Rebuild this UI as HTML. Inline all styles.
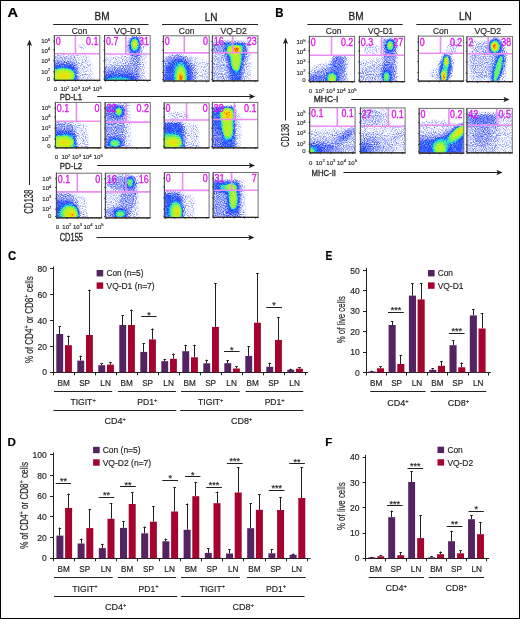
<!DOCTYPE html><html><head><meta charset="utf-8"><style>html,body{margin:0;padding:0;background:#fff;}text{stroke-width:0.18px;paint-order:stroke;}svg{display:block;will-change:transform;}</style></head><body>
<svg xmlns="http://www.w3.org/2000/svg" width="520" height="619" viewBox="0 0 520 619" font-family="Liberation Sans, sans-serif">
<defs>
<radialGradient id="rp"><stop offset="0" stop-color="#fff" stop-opacity="1"/><stop offset="0.55" stop-color="#fff" stop-opacity="0.95"/><stop offset="0.8" stop-color="#fff" stop-opacity="0.55"/><stop offset="1" stop-color="#fff" stop-opacity="0"/></radialGradient><radialGradient id="rg"><stop offset="0" stop-color="#fff" stop-opacity="1"/><stop offset="0.3" stop-color="#fff" stop-opacity="0.85"/><stop offset="0.55" stop-color="#fff" stop-opacity="0.5"/><stop offset="0.8" stop-color="#fff" stop-opacity="0.18"/><stop offset="1" stop-color="#fff" stop-opacity="0"/></radialGradient>
<filter id="jet" x="0" y="0" width="1" height="1" color-interpolation-filters="sRGB"><feGaussianBlur in="SourceGraphic" stdDeviation="1.2" result="d"/><feTurbulence type="fractalNoise" baseFrequency="0.9" numOctaves="1" seed="7" result="t"/><feColorMatrix in="t" type="matrix" values="1 0 0 0 0  1 0 0 0 0  1 0 0 0 0  0 0 0 0 1" result="tg0"/><feGaussianBlur in="tg0" stdDeviation="0.35" result="tg"/><feComponentTransfer in="tg" result="n2"><feFuncR type="linear" slope="0.65" intercept="0.175"/><feFuncG type="linear" slope="0.65" intercept="0.175"/><feFuncB type="linear" slope="0.65" intercept="0.175"/></feComponentTransfer><feComponentTransfer in="d" result="w"><feFuncR type="table" tableValues="0.000 0.397 0.794 1.000 1.000 1.000 1.000 1.000 1.000 1.000 1.000 1.000 1.000 1.000 1.000 1.000 1.000 1.000 1.000 0.996 0.956 0.917 0.877 0.837 0.798 0.758 0.718 0.679 0.639 0.599 0.560 0.520 0.500 0.500 0.500 0.500 0.500 0.500 0.500 0.500 0.500 0.500 0.500 0.500 0.500 0.500 0.500 0.500 0.500 0.500 0.500 0.500 0.500 0.500 0.500 0.500 0.500 0.500 0.500 0.500 0.500 0.500 0.500 0.500"/><feFuncG type="table" tableValues="0.000 0.397 0.794 1.000 1.000 1.000 1.000 1.000 1.000 1.000 1.000 1.000 1.000 1.000 1.000 1.000 1.000 1.000 1.000 0.996 0.956 0.917 0.877 0.837 0.798 0.758 0.718 0.679 0.639 0.599 0.560 0.520 0.500 0.500 0.500 0.500 0.500 0.500 0.500 0.500 0.500 0.500 0.500 0.500 0.500 0.500 0.500 0.500 0.500 0.500 0.500 0.500 0.500 0.500 0.500 0.500 0.500 0.500 0.500 0.500 0.500 0.500 0.500 0.500"/><feFuncB type="table" tableValues="0.000 0.397 0.794 1.000 1.000 1.000 1.000 1.000 1.000 1.000 1.000 1.000 1.000 1.000 1.000 1.000 1.000 1.000 1.000 0.996 0.956 0.917 0.877 0.837 0.798 0.758 0.718 0.679 0.639 0.599 0.560 0.520 0.500 0.500 0.500 0.500 0.500 0.500 0.500 0.500 0.500 0.500 0.500 0.500 0.500 0.500 0.500 0.500 0.500 0.500 0.500 0.500 0.500 0.500 0.500 0.500 0.500 0.500 0.500 0.500 0.500 0.500 0.500 0.500"/></feComponentTransfer><feComposite in="w" in2="n2" operator="arithmetic" k1="1" k2="-0.5" k3="0" k4="0.5" result="m"/><feComposite in="d" in2="m" operator="arithmetic" k1="0" k2="1" k3="1" k4="-0.5" result="dn"/><feComponentTransfer in="dn"><feFuncR type="table" tableValues="1.000 1.000 0.961 0.918 0.873 0.827 0.782 0.738 0.695 0.651 0.607 0.564 0.526 0.491 0.456 0.421 0.386 0.347 0.305 0.263 0.221 0.185 0.169 0.153 0.137 0.121 0.118 0.118 0.118 0.118 0.139 0.160 0.180 0.206 0.248 0.289 0.331 0.371 0.410 0.449 0.488 0.526 0.566 0.606 0.647 0.687 0.728 0.768 0.808 0.839 0.870 0.901 0.932 0.963 0.994 1.000 1.000 1.000 1.000 0.993 0.975 0.957 0.939 0.922"/><feFuncG type="table" tableValues="1.000 1.000 0.967 0.931 0.891 0.851 0.812 0.773 0.735 0.697 0.659 0.621 0.587 0.556 0.525 0.494 0.463 0.428 0.392 0.355 0.319 0.292 0.301 0.310 0.319 0.328 0.401 0.490 0.579 0.668 0.725 0.782 0.839 0.886 0.902 0.917 0.933 0.943 0.948 0.953 0.957 0.962 0.964 0.961 0.959 0.956 0.954 0.951 0.947 0.930 0.913 0.897 0.880 0.863 0.846 0.781 0.706 0.630 0.554 0.477 0.397 0.317 0.237 0.157"/><feFuncB type="table" tableValues="1.000 1.000 1.000 1.000 1.000 1.000 1.000 1.000 1.000 1.000 1.000 1.000 1.000 1.000 1.000 1.000 1.000 1.000 1.000 1.000 1.000 1.000 1.000 1.000 1.000 1.000 0.996 0.991 0.985 0.979 0.917 0.855 0.792 0.728 0.655 0.582 0.510 0.453 0.414 0.375 0.336 0.297 0.264 0.239 0.214 0.189 0.164 0.140 0.115 0.097 0.078 0.059 0.041 0.022 0.003 0.000 0.000 0.000 0.000 0.000 0.000 0.000 0.000 0.000"/></feComponentTransfer><feGaussianBlur stdDeviation="0.3"/></filter>
</defs>
<rect x="0" y="0" width="520" height="619" fill="#fff"/>
<text transform="translate(7.6,17) scale(1.16,1)" font-size="12.6" font-weight="bold" fill="#000" stroke="#000">A</text>
<text transform="translate(275.2,17) scale(0.91,1)" font-size="12.6" font-weight="bold" fill="#000" stroke="#000">B</text>
<text transform="translate(8.1,259.8) scale(0.89,1)" font-size="12.8" font-weight="bold" fill="#000" stroke="#000">C</text>
<text transform="translate(325.6,259.6) scale(0.81,1)" font-size="12.6" font-weight="bold" fill="#000" stroke="#000">E</text>
<text transform="translate(7.6,446.1) scale(1.06,1)" font-size="11.0" font-weight="bold" fill="#000" stroke="#000">D</text>
<text transform="translate(325.2,446.3) scale(1.0,1)" font-size="11.5" font-weight="bold" fill="#000" stroke="#000">F</text>
<text x="102" y="20.4" font-size="10" text-anchor="middle" fill="#231f20" stroke="#231f20" style="stroke-width:0.28px">BM</text>
<line x1="53.2" y1="24.5" x2="148.5" y2="24.5" stroke="#231f20" stroke-width="1"/>
<text x="211.2" y="20.6" font-size="10" text-anchor="middle" fill="#231f20" stroke="#231f20" style="stroke-width:0.28px">LN</text>
<line x1="162" y1="24.5" x2="258" y2="24.5" stroke="#231f20" stroke-width="1"/>
<text x="79.5" y="34.2" font-size="8.8" text-anchor="middle" textLength="15.6" lengthAdjust="spacingAndGlyphs" fill="#231f20" stroke="#231f20">Con</text>
<text x="127.8" y="34.2" font-size="8.8" text-anchor="middle" textLength="27.6" lengthAdjust="spacingAndGlyphs" fill="#231f20" stroke="#231f20">VQ-D1</text>
<text x="186.6" y="34.4" font-size="8.8" text-anchor="middle" textLength="15.6" lengthAdjust="spacingAndGlyphs" fill="#231f20" stroke="#231f20">Con</text>
<text x="233.7" y="34.4" font-size="8.8" text-anchor="middle" textLength="26.5" lengthAdjust="spacingAndGlyphs" fill="#231f20" stroke="#231f20">VQ-D2</text>
<text x="356.1" y="20.4" font-size="10" text-anchor="middle" fill="#231f20" stroke="#231f20" style="stroke-width:0.28px">BM</text>
<line x1="307.4" y1="24.5" x2="402.6" y2="24.5" stroke="#231f20" stroke-width="1"/>
<text x="465.4" y="20.4" font-size="10" text-anchor="middle" fill="#231f20" stroke="#231f20" style="stroke-width:0.28px">LN</text>
<line x1="416.3" y1="24.5" x2="511.5" y2="24.5" stroke="#231f20" stroke-width="1"/>
<text x="333.6" y="34.3" font-size="8.8" text-anchor="middle" textLength="15.6" lengthAdjust="spacingAndGlyphs" fill="#231f20" stroke="#231f20">Con</text>
<text x="380.6" y="34.3" font-size="8.8" text-anchor="middle" textLength="25.2" lengthAdjust="spacingAndGlyphs" fill="#231f20" stroke="#231f20">VQ-D1</text>
<text x="440.7" y="34.3" font-size="8.8" text-anchor="middle" textLength="15.6" lengthAdjust="spacingAndGlyphs" fill="#231f20" stroke="#231f20">Con</text>
<text x="487.8" y="34.3" font-size="8.8" text-anchor="middle" textLength="26.5" lengthAdjust="spacingAndGlyphs" fill="#231f20" stroke="#231f20">VQ-D2</text>
<clipPath id="ca0"><rect x="54.4" y="35.5" width="45.40" height="44.80"/></clipPath>
<g clip-path="url(#ca0)"><g filter="url(#jet)">
<rect x="49.4" y="30.5" width="55.40" height="54.80" fill="#000"/>
<polygon points="72.56,54.32 90.72,57.00 94.35,82.54 72.56,82.54" fill="rgb(13,13,13)"/>
<ellipse cx="81.64" cy="46.70" rx="3.63" ry="3.14" fill="rgb(13,13,13)"/>
<polygon points="52.13,54.76 72.56,55.21 78.01,61.48 80.73,82.54 52.13,82.54" fill="rgb(26,26,26)"/>
<polygon points="52.13,61.48 71.65,61.48 77.10,65.96 78.01,82.54 52.13,82.54" fill="rgb(61,61,61)"/>
<polygon points="52.13,65.07 70.74,65.07 75.28,68.65 76.19,82.54 52.13,82.54" fill="rgb(84,84,84)"/>
<polygon points="52.13,69.55 70.74,69.55 73.92,73.58 74.38,82.54 52.13,82.54" fill="rgb(133,133,133)"/>
<ellipse cx="63.48" cy="74.92" rx="11.49" ry="6.70" fill="rgb(184,184,184)"/>
<ellipse cx="63.48" cy="75.82" rx="6.27" ry="3.61" fill="rgb(209,209,209)"/>
</g></g>
<path d="M54.4,53.8H99.8M75.4,35.5V53.8" stroke="#ea8ef5" stroke-width="1.6" fill="none"/>
<rect x="54.4" y="35.5" width="45.40" height="44.80" fill="none" stroke="#6d6e71" stroke-width="1"/>
<line x1="53.90" y1="80.30" x2="100.30" y2="80.30" stroke="#2b2222" stroke-width="1.2"/>
<line x1="54.40" y1="35.00" x2="54.40" y2="80.30" stroke="#4a4a4a" stroke-width="1"/>
<path d="M53.20,41.10h1.6M53.20,49.84h1.6M53.20,60.81h1.6M53.20,71.79h1.6M53.20,78.96h1.6M55.31,80.30v1.3M64.93,80.30v1.3M75.56,80.30v1.3M86.18,80.30v1.3M97.26,80.30v1.3" stroke="#333" stroke-width="0.9" fill="none"/>
<text transform="translate(55.80,45.10) scale(0.86,1)" font-size="10.4" fill="#e010ec" stroke="#e010ec" style="stroke-width:0.3px">0</text>
<text transform="translate(98.50,45.10) scale(0.86,1)" font-size="10.4" text-anchor="end" fill="#e010ec" stroke="#e010ec" style="stroke-width:0.3px">0.1</text>
<clipPath id="ca1"><rect x="104.6" y="35.5" width="45.60" height="44.90"/></clipPath>
<g clip-path="url(#ca1)"><g filter="url(#jet)">
<rect x="99.6" y="30.5" width="55.60" height="54.90" fill="#000"/>
<polygon points="102.32,57.95 127.40,54.36 145.64,51.22 145.64,82.65 102.32,82.65" fill="rgb(13,13,13)"/>
<ellipse cx="134.70" cy="46.73" rx="10.03" ry="12.57" fill="rgb(13,13,13)"/>
<polygon points="102.32,66.03 118.28,63.34 129.68,57.95 131.05,48.97 141.08,48.97 141.08,82.65 102.32,82.65" fill="rgb(26,26,26)"/>
<polygon points="102.32,68.73 122.84,66.93 131.96,62.44 139.26,64.24 139.26,82.65 102.32,82.65" fill="rgb(43,43,43)"/>
<ellipse cx="135.61" cy="57.95" rx="4.56" ry="13.47" fill="rgb(43,43,43)"/>
<ellipse cx="120.56" cy="76.81" rx="18.24" ry="7.18" fill="rgb(61,61,61)"/>
<ellipse cx="119.19" cy="78.60" rx="17.33" ry="4.49" fill="rgb(84,84,84)"/>
<ellipse cx="118.28" cy="79.50" rx="13.11" ry="2.58" fill="rgb(133,133,133)"/>
<ellipse cx="134.70" cy="46.73" rx="6.38" ry="10.78" fill="rgb(61,61,61)"/>
<ellipse cx="134.70" cy="45.38" rx="4.56" ry="7.63" fill="rgb(107,107,107)"/>
<ellipse cx="134.70" cy="44.48" rx="3.93" ry="6.20" fill="rgb(158,158,158)"/>
<ellipse cx="134.70" cy="44.03" rx="2.62" ry="4.13" fill="rgb(184,184,184)"/>
<ellipse cx="134.70" cy="43.58" rx="1.57" ry="2.58" fill="rgb(209,209,209)"/>
</g></g>
<path d="M104.6,54.0H150.2M125.8,35.5V54.0" stroke="#ea8ef5" stroke-width="1.6" fill="none"/>
<rect x="104.6" y="35.5" width="45.60" height="44.90" fill="none" stroke="#6d6e71" stroke-width="1"/>
<line x1="104.10" y1="80.40" x2="150.70" y2="80.40" stroke="#2b2222" stroke-width="1.2"/>
<line x1="104.60" y1="35.00" x2="104.60" y2="80.40" stroke="#4a4a4a" stroke-width="1"/>
<path d="M103.40,41.11h1.6M103.40,49.87h1.6M103.40,60.87h1.6M103.40,71.87h1.6M103.40,79.05h1.6M105.51,80.40v1.3M115.18,80.40v1.3M125.85,80.40v1.3M136.52,80.40v1.3M147.65,80.40v1.3" stroke="#333" stroke-width="0.9" fill="none"/>
<text transform="translate(106.00,45.10) scale(0.86,1)" font-size="10.4" fill="#e010ec" stroke="#e010ec" style="stroke-width:0.3px">0.7</text>
<text transform="translate(148.90,45.10) scale(0.86,1)" font-size="10.4" text-anchor="end" fill="#e010ec" stroke="#e010ec" style="stroke-width:0.3px">31</text>
<clipPath id="ca2"><rect x="163.4" y="35.8" width="45.80" height="45.20"/></clipPath>
<g clip-path="url(#ca2)"><g filter="url(#jet)">
<rect x="158.4" y="30.799999999999997" width="55.80" height="55.20" fill="#000"/>
<polygon points="161.11,56.14 195.46,56.14 211.49,62.92 211.49,83.26 161.11,83.26" fill="rgb(13,13,13)"/>
<ellipse cx="177.14" cy="74.22" rx="19.24" ry="20.34" fill="rgb(43,43,43)"/>
<ellipse cx="178.51" cy="75.58" rx="13.74" ry="17.18" fill="rgb(84,84,84)"/>
<ellipse cx="180.35" cy="76.48" rx="6.85" ry="14.55" fill="rgb(133,133,133)"/>
<ellipse cx="180.80" cy="76.48" rx="4.48" ry="10.40" fill="rgb(184,184,184)"/>
<ellipse cx="180.80" cy="77.38" rx="2.37" ry="5.20" fill="rgb(230,230,230)"/>
<ellipse cx="180.80" cy="77.84" rx="1.58" ry="3.12" fill="rgb(250,250,250)"/>
</g></g>
<path d="M163.4,52.9H209.2M184.3,35.8V52.9" stroke="#ea8ef5" stroke-width="1.6" fill="none"/>
<rect x="163.4" y="35.8" width="45.80" height="45.20" fill="none" stroke="#6d6e71" stroke-width="1"/>
<line x1="162.90" y1="81.00" x2="209.70" y2="81.00" stroke="#2b2222" stroke-width="1.2"/>
<line x1="163.40" y1="35.30" x2="163.40" y2="81.00" stroke="#4a4a4a" stroke-width="1"/>
<path d="M162.20,41.45h1.6M162.20,50.26h1.6M162.20,61.34h1.6M162.20,72.41h1.6M162.20,79.64h1.6M164.32,81.00v1.3M174.03,81.00v1.3M184.74,81.00v1.3M195.46,81.00v1.3M206.64,81.00v1.3" stroke="#333" stroke-width="0.9" fill="none"/>
<text transform="translate(164.80,45.40) scale(0.86,1)" font-size="10.4" fill="#e010ec" stroke="#e010ec" style="stroke-width:0.3px">0</text>
<text transform="translate(207.90,45.40) scale(0.86,1)" font-size="10.4" text-anchor="end" fill="#e010ec" stroke="#e010ec" style="stroke-width:0.3px">0</text>
<clipPath id="ca3"><rect x="212.4" y="35.8" width="45.50" height="45.00"/></clipPath>
<g clip-path="url(#ca3)"><g filter="url(#jet)">
<rect x="207.4" y="30.799999999999997" width="55.50" height="55.00" fill="#000"/>
<polygon points="210.12,40.30 251.07,40.30 251.07,83.05 210.12,83.05" fill="rgb(13,13,13)"/>
<polygon points="210.12,56.05 226.05,53.80 232.88,83.05 210.12,83.05" fill="rgb(26,26,26)"/>
<polygon points="210.12,42.55 226.05,41.65 245.16,42.55 247.89,53.80 244.25,71.80 241.97,83.05 228.32,83.05 226.05,62.80 221.50,53.80 210.12,52.90" fill="rgb(43,43,43)"/>
<polygon points="223.78,42.55 245.16,42.55 246.52,51.55 242.43,62.80 240.61,83.05 231.51,83.05 228.32,62.80 225.14,51.55" fill="rgb(84,84,84)"/>
<polygon points="226.96,44.80 243.34,44.80 241.97,56.05 239.70,68.20 237.42,74.05 232.42,68.20 229.23,54.70" fill="rgb(133,133,133)"/>
<ellipse cx="234.24" cy="50.65" rx="7.85" ry="5.17" fill="rgb(184,184,184)"/>
<ellipse cx="236.06" cy="60.55" rx="4.71" ry="10.35" fill="rgb(184,184,184)"/>
<ellipse cx="235.15" cy="50.20" rx="5.23" ry="3.62" fill="rgb(209,209,209)"/>
<ellipse cx="236.51" cy="49.30" rx="3.14" ry="3.62" fill="rgb(230,230,230)"/>
<ellipse cx="236.97" cy="48.85" rx="1.83" ry="2.59" fill="rgb(250,250,250)"/>
</g></g>
<path d="M212.4,52.7H257.9M232.7,35.8V52.7" stroke="#ea8ef5" stroke-width="1.6" fill="none"/>
<rect x="212.4" y="35.8" width="45.50" height="45.00" fill="none" stroke="#6d6e71" stroke-width="1"/>
<line x1="211.90" y1="80.80" x2="258.40" y2="80.80" stroke="#2b2222" stroke-width="1.2"/>
<line x1="212.40" y1="35.30" x2="212.40" y2="80.80" stroke="#4a4a4a" stroke-width="1"/>
<path d="M211.20,41.42h1.6M211.20,50.20h1.6M211.20,61.22h1.6M211.20,72.25h1.6M211.20,79.45h1.6M213.31,80.80v1.3M222.96,80.80v1.3M233.60,80.80v1.3M244.25,80.80v1.3M255.35,80.80v1.3" stroke="#333" stroke-width="0.9" fill="none"/>
<text transform="translate(213.80,45.40) scale(0.86,1)" font-size="10.4" fill="#e010ec" stroke="#e010ec" style="stroke-width:0.3px">16</text>
<text transform="translate(256.60,45.40) scale(0.86,1)" font-size="10.4" text-anchor="end" fill="#e010ec" stroke="#e010ec" style="stroke-width:0.3px">23</text>
<clipPath id="ca4"><rect x="55.4" y="102.4" width="45.40" height="45.40"/></clipPath>
<g clip-path="url(#ca4)"><g filter="url(#jet)">
<rect x="50.4" y="97.4" width="55.40" height="55.40" fill="#000"/>
<polygon points="71.29,121.47 87.18,125.10 89.45,150.07 71.29,150.07" fill="rgb(13,13,13)"/>
<polygon points="53.13,121.47 71.29,122.38 75.83,129.64 78.10,150.07 53.13,150.07" fill="rgb(43,43,43)"/>
<polygon points="53.13,130.55 71.29,130.55 75.38,134.18 76.28,150.07 53.13,150.07" fill="rgb(84,84,84)"/>
<polygon points="53.13,135.09 70.84,135.09 74.01,139.63 74.47,150.07 53.13,150.07" fill="rgb(133,133,133)"/>
<ellipse cx="63.57" cy="142.35" rx="10.44" ry="6.27" fill="rgb(184,184,184)"/>
<ellipse cx="64.48" cy="142.81" rx="5.74" ry="3.13" fill="rgb(209,209,209)"/>
</g></g>
<path d="M55.4,121.3H100.8M76.4,102.4V121.3" stroke="#ea8ef5" stroke-width="1.6" fill="none"/>
<rect x="55.4" y="102.4" width="45.40" height="45.40" fill="none" stroke="#6d6e71" stroke-width="1"/>
<line x1="54.90" y1="147.80" x2="101.30" y2="147.80" stroke="#2b2222" stroke-width="1.2"/>
<line x1="55.40" y1="101.90" x2="55.40" y2="147.80" stroke="#4a4a4a" stroke-width="1"/>
<path d="M54.20,108.08h1.6M54.20,116.93h1.6M54.20,128.05h1.6M54.20,139.17h1.6M54.20,146.44h1.6M56.31,147.80v1.3M65.93,147.80v1.3M76.56,147.80v1.3M87.18,147.80v1.3M98.26,147.80v1.3" stroke="#333" stroke-width="0.9" fill="none"/>
<text transform="translate(56.80,112.00) scale(0.86,1)" font-size="10.4" fill="#e010ec" stroke="#e010ec" style="stroke-width:0.3px">0.1</text>
<text transform="translate(99.50,112.00) scale(0.86,1)" font-size="10.4" text-anchor="end" fill="#e010ec" stroke="#e010ec" style="stroke-width:0.3px">0</text>
<clipPath id="ca5"><rect x="105.1" y="102.6" width="45.20" height="45.20"/></clipPath>
<g clip-path="url(#ca5)"><g filter="url(#jet)">
<rect x="100.1" y="97.6" width="55.20" height="55.20" fill="#000"/>
<polygon points="102.84,103.50 129.96,103.50 132.22,150.06 102.84,150.06" fill="rgb(13,13,13)"/>
<polygon points="102.84,104.86 125.44,104.86 125.44,150.06 102.84,150.06" fill="rgb(43,43,43)"/>
<ellipse cx="115.04" cy="111.64" rx="11.30" ry="7.68" fill="rgb(61,61,61)"/>
<ellipse cx="114.14" cy="142.38" rx="9.94" ry="6.78" fill="rgb(61,61,61)"/>
<ellipse cx="115.04" cy="143.28" rx="6.78" ry="4.52" fill="rgb(107,107,107)"/>
<ellipse cx="118.66" cy="111.64" rx="3.90" ry="4.42" fill="rgb(158,158,158)"/>
<ellipse cx="115.04" cy="143.28" rx="4.68" ry="3.64" fill="rgb(158,158,158)"/>
<ellipse cx="118.66" cy="111.19" rx="2.34" ry="2.60" fill="rgb(184,184,184)"/>
</g></g>
<path d="M105.1,122.1H150.3M126.1,102.6V122.1" stroke="#ea8ef5" stroke-width="1.6" fill="none"/>
<rect x="105.1" y="102.6" width="45.20" height="45.20" fill="none" stroke="#6d6e71" stroke-width="1"/>
<line x1="104.60" y1="147.80" x2="150.80" y2="147.80" stroke="#2b2222" stroke-width="1.2"/>
<line x1="105.10" y1="102.10" x2="105.10" y2="147.80" stroke="#4a4a4a" stroke-width="1"/>
<path d="M103.90,108.25h1.6M103.90,117.06h1.6M103.90,128.14h1.6M103.90,139.21h1.6M103.90,146.44h1.6M106.00,147.80v1.3M115.59,147.80v1.3M126.16,147.80v1.3M136.74,147.80v1.3M147.77,147.80v1.3" stroke="#333" stroke-width="0.9" fill="none"/>
<text transform="translate(106.50,112.20) scale(0.86,1)" font-size="10.4" fill="#e010ec" stroke="#e010ec" style="stroke-width:0.3px">32</text>
<text transform="translate(149.00,112.20) scale(0.86,1)" font-size="10.4" text-anchor="end" fill="#e010ec" stroke="#e010ec" style="stroke-width:0.3px">0.2</text>
<clipPath id="ca6"><rect x="164.2" y="102.8" width="44.90" height="45.00"/></clipPath>
<g clip-path="url(#ca6)"><g filter="url(#jet)">
<rect x="159.2" y="97.8" width="54.90" height="55.00" fill="#000"/>
<polygon points="179.91,121.70 197.88,125.30 200.12,150.05 179.91,150.05" fill="rgb(13,13,13)"/>
<ellipse cx="177.67" cy="116.30" rx="11.23" ry="4.50" fill="rgb(13,13,13)"/>
<polygon points="161.95,121.70 182.16,121.70 185.75,129.80 186.65,150.05 161.95,150.05" fill="rgb(43,43,43)"/>
<polygon points="161.95,123.05 180.36,123.05 183.06,127.55 183.51,150.05 161.95,150.05" fill="rgb(84,84,84)"/>
<polygon points="161.95,132.50 179.02,133.40 181.26,137.90 181.71,150.05 161.95,150.05" fill="rgb(133,133,133)"/>
<ellipse cx="172.28" cy="142.40" rx="9.81" ry="6.21" fill="rgb(184,184,184)"/>
<ellipse cx="173.18" cy="142.85" rx="5.16" ry="3.11" fill="rgb(209,209,209)"/>
</g></g>
<path d="M164.2,120.0H209.1M186.5,102.8V120.0" stroke="#ea8ef5" stroke-width="1.6" fill="none"/>
<rect x="164.2" y="102.8" width="44.90" height="45.00" fill="none" stroke="#6d6e71" stroke-width="1"/>
<line x1="163.70" y1="147.80" x2="209.60" y2="147.80" stroke="#2b2222" stroke-width="1.2"/>
<line x1="164.20" y1="102.30" x2="164.20" y2="147.80" stroke="#4a4a4a" stroke-width="1"/>
<path d="M163.00,108.42h1.6M163.00,117.20h1.6M163.00,128.22h1.6M163.00,139.25h1.6M163.00,146.45h1.6M165.10,147.80v1.3M174.62,147.80v1.3M185.12,147.80v1.3M195.63,147.80v1.3M206.59,147.80v1.3" stroke="#333" stroke-width="0.9" fill="none"/>
<text transform="translate(165.60,112.40) scale(0.86,1)" font-size="10.4" fill="#e010ec" stroke="#e010ec" style="stroke-width:0.3px">0</text>
<text transform="translate(207.80,112.40) scale(0.86,1)" font-size="10.4" text-anchor="end" fill="#e010ec" stroke="#e010ec" style="stroke-width:0.3px">0</text>
<clipPath id="ca7"><rect x="212.4" y="102.4" width="45.40" height="45.40"/></clipPath>
<g clip-path="url(#ca7)"><g filter="url(#jet)">
<rect x="207.4" y="97.4" width="55.40" height="55.40" fill="#000"/>
<polygon points="232.83,106.94 241.91,116.02 240.55,150.07 232.83,150.07" fill="rgb(13,13,13)"/>
<polygon points="210.13,106.94 235.10,106.03 236.46,150.07 210.13,150.07" fill="rgb(43,43,43)"/>
<polygon points="214.67,107.85 234.19,106.94 235.10,125.10 234.19,150.07 210.13,150.07 210.13,111.48" fill="rgb(84,84,84)"/>
<ellipse cx="216.03" cy="139.63" rx="6.36" ry="11.35" fill="rgb(61,61,61)"/>
<polygon points="219.21,108.76 233.28,108.76 233.28,125.10 232.38,138.72 225.11,140.99 220.57,125.10" fill="rgb(133,133,133)"/>
<ellipse cx="227.38" cy="116.02" rx="6.79" ry="8.88" fill="rgb(184,184,184)"/>
<ellipse cx="227.84" cy="128.73" rx="5.22" ry="8.88" fill="rgb(184,184,184)"/>
<ellipse cx="227.38" cy="115.11" rx="4.70" ry="5.74" fill="rgb(209,209,209)"/>
<ellipse cx="227.38" cy="114.20" rx="2.61" ry="3.13" fill="rgb(230,230,230)"/>
</g></g>
<path d="M212.4,119.5H257.8M234.5,102.4V119.5" stroke="#ea8ef5" stroke-width="1.6" fill="none"/>
<rect x="212.4" y="102.4" width="45.40" height="45.40" fill="none" stroke="#6d6e71" stroke-width="1"/>
<line x1="211.90" y1="147.80" x2="258.30" y2="147.80" stroke="#2b2222" stroke-width="1.2"/>
<line x1="212.40" y1="101.90" x2="212.40" y2="147.80" stroke="#4a4a4a" stroke-width="1"/>
<path d="M211.20,108.08h1.6M211.20,116.93h1.6M211.20,128.05h1.6M211.20,139.17h1.6M211.20,146.44h1.6M213.31,147.80v1.3M222.93,147.80v1.3M233.56,147.80v1.3M244.18,147.80v1.3M255.26,147.80v1.3" stroke="#333" stroke-width="0.9" fill="none"/>
<text transform="translate(213.80,112.00) scale(0.86,1)" font-size="10.4" fill="#e010ec" stroke="#e010ec" style="stroke-width:0.3px">38</text>
<text transform="translate(256.50,112.00) scale(0.86,1)" font-size="10.4" text-anchor="end" fill="#e010ec" stroke="#e010ec" style="stroke-width:0.3px">0.1</text>
<clipPath id="ca8"><rect x="56.4" y="173.2" width="45.20" height="44.60"/></clipPath>
<g clip-path="url(#ca8)"><g filter="url(#jet)">
<rect x="51.4" y="168.2" width="55.20" height="54.60" fill="#000"/>
<polygon points="69.96,191.93 85.78,197.73 88.04,220.03 69.96,220.03" fill="rgb(13,13,13)"/>
<polygon points="54.14,191.93 70.86,193.27 76.74,200.85 79.90,220.03 54.14,220.03" fill="rgb(43,43,43)"/>
<polygon points="54.14,200.85 69.96,200.85 76.74,206.65 78.10,220.03 54.14,220.03" fill="rgb(84,84,84)"/>
<ellipse cx="69.06" cy="214.23" rx="10.40" ry="10.26" fill="rgb(133,133,133)"/>
<ellipse cx="69.96" cy="213.34" rx="7.28" ry="6.67" fill="rgb(184,184,184)"/>
<ellipse cx="71.32" cy="214.23" rx="4.16" ry="4.10" fill="rgb(209,209,209)"/>
<ellipse cx="71.77" cy="215.57" rx="2.08" ry="2.05" fill="rgb(230,230,230)"/>
</g></g>
<path d="M56.4,191.9H101.6M77.3,173.2V191.9" stroke="#ea8ef5" stroke-width="1.6" fill="none"/>
<rect x="56.4" y="173.2" width="45.20" height="44.60" fill="none" stroke="#6d6e71" stroke-width="1"/>
<line x1="55.90" y1="217.80" x2="102.10" y2="217.80" stroke="#2b2222" stroke-width="1.2"/>
<line x1="56.40" y1="172.70" x2="56.40" y2="217.80" stroke="#4a4a4a" stroke-width="1"/>
<path d="M55.20,178.77h1.6M55.20,187.47h1.6M55.20,198.40h1.6M55.20,209.33h1.6M55.20,216.46h1.6M57.30,217.80v1.3M66.89,217.80v1.3M77.46,217.80v1.3M88.04,217.80v1.3M99.07,217.80v1.3" stroke="#333" stroke-width="0.9" fill="none"/>
<text transform="translate(57.80,182.80) scale(0.86,1)" font-size="10.4" fill="#e010ec" stroke="#e010ec" style="stroke-width:0.3px">0.1</text>
<text transform="translate(100.30,182.80) scale(0.86,1)" font-size="10.4" text-anchor="end" fill="#e010ec" stroke="#e010ec" style="stroke-width:0.3px">0</text>
<clipPath id="ca9"><rect x="105.4" y="173.2" width="44.70" height="44.60"/></clipPath>
<g clip-path="url(#ca9)"><g filter="url(#jet)">
<rect x="100.4" y="168.2" width="54.70" height="54.60" fill="#000"/>
<polygon points="103.17,175.43 138.93,175.43 138.93,220.03 103.17,220.03" fill="rgb(13,13,13)"/>
<ellipse cx="121.05" cy="183.01" rx="13.41" ry="7.58" fill="rgb(43,43,43)"/>
<ellipse cx="127.75" cy="199.96" rx="8.05" ry="16.95" fill="rgb(43,43,43)" transform="rotate(15 127.75 199.96)"/>
<ellipse cx="118.81" cy="212.45" rx="13.41" ry="6.69" fill="rgb(43,43,43)"/>
<ellipse cx="129.99" cy="183.01" rx="6.70" ry="7.58" fill="rgb(61,61,61)"/>
<ellipse cx="120.15" cy="213.34" rx="8.94" ry="5.35" fill="rgb(61,61,61)"/>
<ellipse cx="120.15" cy="213.34" rx="6.26" ry="4.46" fill="rgb(107,107,107)"/>
<ellipse cx="129.99" cy="182.57" rx="3.34" ry="4.36" fill="rgb(158,158,158)"/>
<ellipse cx="120.60" cy="214.23" rx="4.11" ry="3.59" fill="rgb(158,158,158)"/>
</g></g>
<path d="M105.4,191.9H150.1M126.0,173.2V191.9" stroke="#ea8ef5" stroke-width="1.6" fill="none"/>
<rect x="105.4" y="173.2" width="44.70" height="44.60" fill="none" stroke="#6d6e71" stroke-width="1"/>
<line x1="104.90" y1="217.80" x2="150.60" y2="217.80" stroke="#2b2222" stroke-width="1.2"/>
<line x1="105.40" y1="172.70" x2="105.40" y2="217.80" stroke="#4a4a4a" stroke-width="1"/>
<path d="M104.20,178.77h1.6M104.20,187.47h1.6M104.20,198.40h1.6M104.20,209.33h1.6M104.20,216.46h1.6M106.29,217.80v1.3M115.77,217.80v1.3M126.23,217.80v1.3M136.69,217.80v1.3M147.60,217.80v1.3" stroke="#333" stroke-width="0.9" fill="none"/>
<text transform="translate(106.80,182.80) scale(0.86,1)" font-size="10.4" fill="#e010ec" stroke="#e010ec" style="stroke-width:0.3px">16</text>
<text transform="translate(148.80,182.80) scale(0.86,1)" font-size="10.4" text-anchor="end" fill="#e010ec" stroke="#e010ec" style="stroke-width:0.3px">16</text>
<clipPath id="ca10"><rect x="164.4" y="172.5" width="44.70" height="45.10"/></clipPath>
<g clip-path="url(#ca10)"><g filter="url(#jet)">
<rect x="159.4" y="167.5" width="54.70" height="55.10" fill="#000"/>
<polygon points="177.81,191.44 193.45,195.05 194.80,219.85 177.81,219.85" fill="rgb(13,13,13)"/>
<polygon points="162.17,191.44 180.04,191.44 184.51,199.56 184.51,219.85 162.17,219.85" fill="rgb(43,43,43)"/>
<polygon points="162.17,193.25 177.81,194.15 181.39,199.56 181.83,219.85 162.17,219.85" fill="rgb(84,84,84)"/>
<ellipse cx="175.57" cy="212.19" rx="7.20" ry="11.41" fill="rgb(133,133,133)"/>
<ellipse cx="176.47" cy="211.74" rx="4.63" ry="7.78" fill="rgb(184,184,184)"/>
<ellipse cx="176.92" cy="212.19" rx="2.57" ry="4.15" fill="rgb(209,209,209)"/>
</g></g>
<path d="M164.4,190.4H209.1M182.6,172.5V190.4" stroke="#ea8ef5" stroke-width="1.6" fill="none"/>
<rect x="164.4" y="172.5" width="44.70" height="45.10" fill="none" stroke="#6d6e71" stroke-width="1"/>
<line x1="163.90" y1="217.60" x2="209.60" y2="217.60" stroke="#2b2222" stroke-width="1.2"/>
<line x1="164.40" y1="172.00" x2="164.40" y2="217.60" stroke="#4a4a4a" stroke-width="1"/>
<path d="M163.20,178.14h1.6M163.20,186.93h1.6M163.20,197.98h1.6M163.20,209.03h1.6M163.20,216.25h1.6M165.29,217.60v1.3M174.77,217.60v1.3M185.23,217.60v1.3M195.69,217.60v1.3M206.60,217.60v1.3" stroke="#333" stroke-width="0.9" fill="none"/>
<text transform="translate(165.80,182.10) scale(0.86,1)" font-size="10.4" fill="#e010ec" stroke="#e010ec" style="stroke-width:0.3px">0</text>
<text transform="translate(207.80,182.10) scale(0.86,1)" font-size="10.4" text-anchor="end" fill="#e010ec" stroke="#e010ec" style="stroke-width:0.3px">0</text>
<clipPath id="ca11"><rect x="213.2" y="172.5" width="44.90" height="44.90"/></clipPath>
<g clip-path="url(#ca11)"><g filter="url(#jet)">
<rect x="208.2" y="167.5" width="54.90" height="54.90" fill="#000"/>
<polygon points="210.95,179.24 244.63,179.24 245.53,219.65 210.95,219.65" fill="rgb(13,13,13)"/>
<polygon points="210.95,191.36 226.67,191.36 228.91,219.65 210.95,219.65" fill="rgb(43,43,43)"/>
<polygon points="210.95,180.58 237.90,180.13 241.04,185.97 241.04,203.93 239.24,219.65 225.77,219.65 225.77,192.71 210.95,191.81" fill="rgb(61,61,61)"/>
<polygon points="210.95,182.38 235.65,181.48 238.79,185.97 239.24,199.44 237.90,212.91 228.91,213.81 226.67,192.71 210.95,190.46" fill="rgb(84,84,84)"/>
<polygon points="219.94,184.17 234.75,183.28 237.00,188.22 237.45,201.69 235.65,209.32 230.26,209.32 228.02,192.71 219.94,190.46" fill="rgb(133,133,133)"/>
<ellipse cx="231.16" cy="187.32" rx="5.16" ry="3.61" fill="rgb(184,184,184)"/>
<ellipse cx="233.41" cy="199.44" rx="3.61" ry="9.29" fill="rgb(184,184,184)"/>
</g></g>
<path d="M213.2,190.2H258.1M231.6,172.5V190.2" stroke="#ea8ef5" stroke-width="1.6" fill="none"/>
<rect x="213.2" y="172.5" width="44.90" height="44.90" fill="none" stroke="#6d6e71" stroke-width="1"/>
<line x1="212.70" y1="217.40" x2="258.60" y2="217.40" stroke="#2b2222" stroke-width="1.2"/>
<line x1="213.20" y1="172.00" x2="213.20" y2="217.40" stroke="#4a4a4a" stroke-width="1"/>
<path d="M212.00,178.11h1.6M212.00,186.87h1.6M212.00,197.87h1.6M212.00,208.87h1.6M212.00,216.05h1.6M214.10,217.40v1.3M223.62,217.40v1.3M234.12,217.40v1.3M244.63,217.40v1.3M255.59,217.40v1.3" stroke="#333" stroke-width="0.9" fill="none"/>
<text transform="translate(214.60,182.10) scale(0.86,1)" font-size="10.4" fill="#e010ec" stroke="#e010ec" style="stroke-width:0.3px">31</text>
<text transform="translate(256.80,182.10) scale(0.86,1)" font-size="10.4" text-anchor="end" fill="#e010ec" stroke="#e010ec" style="stroke-width:0.3px">7</text>
<clipPath id="cb0"><rect x="309.4" y="36.4" width="45.20" height="45.20"/></clipPath>
<g clip-path="url(#cb0)"><g filter="url(#jet)">
<rect x="304.4" y="31.4" width="55.20" height="55.20" fill="#000"/>
<polygon points="307.14,68.04 347.82,54.48 347.82,83.86 307.14,83.86" fill="rgb(13,13,13)"/>
<polygon points="307.14,74.82 329.74,65.78 334.26,56.74 345.56,55.38 345.56,83.86 307.14,83.86" fill="rgb(43,43,43)"/>
<ellipse cx="337.42" cy="66.23" rx="6.78" ry="10.85" fill="rgb(61,61,61)"/>
<ellipse cx="322.96" cy="79.34" rx="17.18" ry="4.52" fill="rgb(61,61,61)"/>
<ellipse cx="332.00" cy="77.98" rx="6.33" ry="6.33" fill="rgb(107,107,107)"/>
<ellipse cx="332.00" cy="77.98" rx="4.16" ry="5.20" fill="rgb(158,158,158)"/>
<ellipse cx="332.00" cy="78.89" rx="2.60" ry="3.12" fill="rgb(184,184,184)"/>
<ellipse cx="332.00" cy="80.24" rx="1.56" ry="1.56" fill="rgb(209,209,209)"/>
</g></g>
<path d="M309.4,55.3H354.6M331.5,36.4V55.3" stroke="#ea8ef5" stroke-width="1.6" fill="none"/>
<rect x="309.4" y="36.4" width="45.20" height="45.20" fill="none" stroke="#6d6e71" stroke-width="1"/>
<line x1="308.90" y1="81.60" x2="355.10" y2="81.60" stroke="#2b2222" stroke-width="1.2"/>
<line x1="309.40" y1="35.90" x2="309.40" y2="81.60" stroke="#4a4a4a" stroke-width="1"/>
<path d="M308.20,42.05h1.6M308.20,50.86h1.6M308.20,61.94h1.6M308.20,73.01h1.6M308.20,80.24h1.6M310.30,81.60v1.3M319.89,81.60v1.3M330.46,81.60v1.3M341.04,81.60v1.3M352.07,81.60v1.3" stroke="#333" stroke-width="0.9" fill="none"/>
<text transform="translate(310.80,46.00) scale(0.86,1)" font-size="10.4" fill="#e010ec" stroke="#e010ec" style="stroke-width:0.3px">0</text>
<text transform="translate(353.30,46.00) scale(0.86,1)" font-size="10.4" text-anchor="end" fill="#e010ec" stroke="#e010ec" style="stroke-width:0.3px">0.2</text>
<clipPath id="cb1"><rect x="359.4" y="36.4" width="45.20" height="45.20"/></clipPath>
<g clip-path="url(#cb1)"><g filter="url(#jet)">
<rect x="354.4" y="31.4" width="55.20" height="55.20" fill="#000"/>
<polygon points="357.14,61.26 384.26,56.74 384.26,83.86 357.14,83.86" fill="rgb(13,13,13)"/>
<ellipse cx="372.96" cy="49.96" rx="9.04" ry="5.42" fill="rgb(13,13,13)"/>
<polygon points="357.14,70.30 382.00,63.52 384.26,83.86 357.14,83.86" fill="rgb(26,26,26)"/>
<polygon points="382.90,38.66 396.46,38.66 396.46,83.86 382.90,83.86" fill="rgb(43,43,43)"/>
<ellipse cx="390.14" cy="47.70" rx="6.33" ry="9.04" fill="rgb(61,61,61)"/>
<ellipse cx="387.42" cy="72.56" rx="6.33" ry="11.30" fill="rgb(61,61,61)"/>
<ellipse cx="390.14" cy="45.44" rx="4.07" ry="5.88" fill="rgb(107,107,107)"/>
<ellipse cx="386.52" cy="76.18" rx="4.07" ry="6.33" fill="rgb(107,107,107)"/>
<ellipse cx="390.14" cy="45.44" rx="3.12" ry="4.68" fill="rgb(158,158,158)"/>
<ellipse cx="386.52" cy="77.08" rx="2.86" ry="4.68" fill="rgb(158,158,158)"/>
<ellipse cx="390.14" cy="44.99" rx="2.08" ry="2.60" fill="rgb(184,184,184)"/>
</g></g>
<path d="M359.4,55.3H404.6M381.5,36.4V55.3" stroke="#ea8ef5" stroke-width="1.6" fill="none"/>
<rect x="359.4" y="36.4" width="45.20" height="45.20" fill="none" stroke="#6d6e71" stroke-width="1"/>
<line x1="358.90" y1="81.60" x2="405.10" y2="81.60" stroke="#2b2222" stroke-width="1.2"/>
<line x1="359.40" y1="35.90" x2="359.40" y2="81.60" stroke="#4a4a4a" stroke-width="1"/>
<path d="M358.20,42.05h1.6M358.20,50.86h1.6M358.20,61.94h1.6M358.20,73.01h1.6M358.20,80.24h1.6M360.30,81.60v1.3M369.89,81.60v1.3M380.46,81.60v1.3M391.04,81.60v1.3M402.07,81.60v1.3" stroke="#333" stroke-width="0.9" fill="none"/>
<text transform="translate(360.80,46.00) scale(0.86,1)" font-size="10.4" fill="#e010ec" stroke="#e010ec" style="stroke-width:0.3px">0.3</text>
<text transform="translate(403.30,46.00) scale(0.86,1)" font-size="10.4" text-anchor="end" fill="#e010ec" stroke="#e010ec" style="stroke-width:0.3px">27</text>
<clipPath id="cb2"><rect x="418.4" y="36.1" width="45.20" height="45.00"/></clipPath>
<g clip-path="url(#cb2)"><g filter="url(#jet)">
<rect x="413.4" y="31.1" width="55.20" height="55.00" fill="#000"/>
<ellipse cx="452.30" cy="48.70" rx="5.42" ry="11.25" fill="rgb(13,13,13)" transform="rotate(30 452.30 48.70)"/>
<ellipse cx="438.74" cy="74.35" rx="9.04" ry="6.75" fill="rgb(13,13,13)"/>
<ellipse cx="445.52" cy="68.50" rx="7.23" ry="14.85" fill="rgb(43,43,43)" transform="rotate(8 445.52 68.50)"/>
<ellipse cx="445.52" cy="68.50" rx="5.42" ry="13.50" fill="rgb(84,84,84)" transform="rotate(8 445.52 68.50)"/>
<ellipse cx="445.52" cy="68.50" rx="3.12" ry="13.45" fill="rgb(133,133,133)" transform="rotate(5 445.52 68.50)"/>
<ellipse cx="446.42" cy="61.30" rx="2.34" ry="5.69" fill="rgb(184,184,184)"/>
<ellipse cx="443.71" cy="75.70" rx="2.60" ry="6.21" fill="rgb(184,184,184)"/>
<ellipse cx="446.42" cy="61.30" rx="1.30" ry="3.10" fill="rgb(230,230,230)"/>
<ellipse cx="443.71" cy="76.60" rx="1.82" ry="5.17" fill="rgb(230,230,230)"/>
<ellipse cx="443.71" cy="77.95" rx="1.30" ry="3.10" fill="rgb(250,250,250)"/>
</g></g>
<path d="M418.4,53.2H463.6M440.5,36.1V53.2" stroke="#ea8ef5" stroke-width="1.6" fill="none"/>
<rect x="418.4" y="36.1" width="45.20" height="45.00" fill="none" stroke="#6d6e71" stroke-width="1"/>
<line x1="417.90" y1="81.10" x2="464.10" y2="81.10" stroke="#2b2222" stroke-width="1.2"/>
<line x1="418.40" y1="35.60" x2="418.40" y2="81.10" stroke="#4a4a4a" stroke-width="1"/>
<path d="M417.20,41.73h1.6M417.20,50.50h1.6M417.20,61.52h1.6M417.20,72.55h1.6M417.20,79.75h1.6M419.30,81.10v1.3M428.89,81.10v1.3M439.46,81.10v1.3M450.04,81.10v1.3M461.07,81.10v1.3" stroke="#333" stroke-width="0.9" fill="none"/>
<text transform="translate(419.80,45.70) scale(0.86,1)" font-size="10.4" fill="#e010ec" stroke="#e010ec" style="stroke-width:0.3px">0</text>
<text transform="translate(462.30,45.70) scale(0.86,1)" font-size="10.4" text-anchor="end" fill="#e010ec" stroke="#e010ec" style="stroke-width:0.3px">0.2</text>
<clipPath id="cb3"><rect x="466.9" y="36.7" width="45.70" height="44.90"/></clipPath>
<g clip-path="url(#cb3)"><g filter="url(#jet)">
<rect x="461.9" y="31.700000000000003" width="55.70" height="54.90" fill="#000"/>
<polygon points="469.19,40.29 505.75,40.29 505.75,83.84 469.19,83.84" fill="rgb(13,13,13)"/>
<ellipse cx="482.89" cy="61.39" rx="13.71" ry="17.96" fill="rgb(26,26,26)"/>
<ellipse cx="497.98" cy="65.88" rx="7.31" ry="18.86" fill="rgb(43,43,43)" transform="rotate(15 497.98 65.88)"/>
<ellipse cx="495.23" cy="46.58" rx="7.77" ry="8.53" fill="rgb(61,61,61)"/>
<ellipse cx="495.23" cy="46.58" rx="5.94" ry="7.18" fill="rgb(84,84,84)"/>
<ellipse cx="497.98" cy="68.13" rx="4.57" ry="14.82" fill="rgb(84,84,84)" transform="rotate(15 497.98 68.13)"/>
<ellipse cx="495.23" cy="46.58" rx="5.26" ry="6.71" fill="rgb(133,133,133)"/>
<ellipse cx="497.98" cy="69.03" rx="3.15" ry="14.46" fill="rgb(158,158,158)" transform="rotate(15 497.98 69.03)"/>
<ellipse cx="494.78" cy="46.58" rx="3.94" ry="5.16" fill="rgb(184,184,184)"/>
<ellipse cx="494.32" cy="46.13" rx="2.63" ry="3.36" fill="rgb(230,230,230)"/>
<ellipse cx="494.32" cy="46.13" rx="1.58" ry="2.07" fill="rgb(250,250,250)"/>
</g></g>
<path d="M466.9,53.7H512.6M488.1,36.7V53.7" stroke="#ea8ef5" stroke-width="1.6" fill="none"/>
<rect x="466.9" y="36.7" width="45.70" height="44.90" fill="none" stroke="#6d6e71" stroke-width="1"/>
<line x1="466.40" y1="81.60" x2="513.10" y2="81.60" stroke="#2b2222" stroke-width="1.2"/>
<line x1="466.90" y1="36.20" x2="466.90" y2="81.60" stroke="#4a4a4a" stroke-width="1"/>
<path d="M465.70,42.31h1.6M465.70,51.07h1.6M465.70,62.07h1.6M465.70,73.07h1.6M465.70,80.25h1.6M467.81,81.60v1.3M477.50,81.60v1.3M488.20,81.60v1.3M498.89,81.60v1.3M510.04,81.60v1.3" stroke="#333" stroke-width="0.9" fill="none"/>
<text transform="translate(468.30,46.30) scale(0.86,1)" font-size="10.4" fill="#e010ec" stroke="#e010ec" style="stroke-width:0.3px">2</text>
<text transform="translate(511.30,46.30) scale(0.86,1)" font-size="10.4" text-anchor="end" fill="#e010ec" stroke="#e010ec" style="stroke-width:0.3px">38</text>
<clipPath id="cb4"><rect x="309.7" y="107.7" width="45.40" height="45.10"/></clipPath>
<g clip-path="url(#cb4)"><g filter="url(#jet)">
<rect x="304.7" y="102.7" width="55.40" height="55.10" fill="#000"/>
<polygon points="307.43,130.25 357.37,125.74 357.37,155.06 307.43,155.06" fill="rgb(13,13,13)"/>
<polygon points="307.43,137.02 327.86,137.02 352.83,126.64 357.37,130.25 357.37,155.06 307.43,155.06" fill="rgb(26,26,26)"/>
<polygon points="307.43,141.53 327.86,141.53 341.48,148.29 343.75,155.06 307.43,155.06" fill="rgb(43,43,43)"/>
<ellipse cx="342.39" cy="138.37" rx="14.53" ry="4.51" fill="rgb(43,43,43)" transform="rotate(-38 342.39 138.37)"/>
<ellipse cx="319.69" cy="148.29" rx="14.53" ry="5.41" fill="rgb(61,61,61)"/>
<ellipse cx="346.02" cy="135.66" rx="8.17" ry="2.71" fill="rgb(61,61,61)" transform="rotate(-38 346.02 135.66)"/>
<ellipse cx="314.24" cy="149.64" rx="9.08" ry="4.51" fill="rgb(84,84,84)"/>
<ellipse cx="311.52" cy="151.00" rx="5.22" ry="4.15" fill="rgb(133,133,133)"/>
<ellipse cx="310.61" cy="151.90" rx="2.61" ry="2.59" fill="rgb(184,184,184)"/>
</g></g>
<path d="M309.7,126.3H355.1M337.3,107.7V126.3" stroke="#ea8ef5" stroke-width="1.6" fill="none"/>
<rect x="309.7" y="107.7" width="45.40" height="45.10" fill="none" stroke="#6d6e71" stroke-width="1"/>
<line x1="309.20" y1="152.80" x2="355.60" y2="152.80" stroke="#2b2222" stroke-width="1.2"/>
<line x1="309.70" y1="107.20" x2="309.70" y2="152.80" stroke="#4a4a4a" stroke-width="1"/>
<path d="M308.50,113.34h1.6M308.50,122.13h1.6M308.50,133.18h1.6M308.50,144.23h1.6M308.50,151.45h1.6M310.61,152.80v1.3M320.23,152.80v1.3M330.86,152.80v1.3M341.48,152.80v1.3M352.56,152.80v1.3" stroke="#333" stroke-width="0.9" fill="none"/>
<text transform="translate(311.10,117.30) scale(0.86,1)" font-size="10.4" fill="#e010ec" stroke="#e010ec" style="stroke-width:0.3px">0.1</text>
<text transform="translate(353.80,117.30) scale(0.86,1)" font-size="10.4" text-anchor="end" fill="#e010ec" stroke="#e010ec" style="stroke-width:0.3px">0.1</text>
<clipPath id="cb5"><rect x="360.4" y="107.9" width="44.70" height="44.90"/></clipPath>
<g clip-path="url(#cb5)"><g filter="url(#jet)">
<rect x="355.4" y="102.9" width="54.70" height="54.90" fill="#000"/>
<polygon points="358.16,108.80 387.22,108.80 391.69,125.86 407.34,125.86 407.34,155.05 358.16,155.05" fill="rgb(13,13,13)"/>
<ellipse cx="370.23" cy="117.78" rx="13.41" ry="8.08" fill="rgb(26,26,26)"/>
<polygon points="358.16,132.59 378.28,132.59 391.69,141.58 396.16,155.05 358.16,155.05" fill="rgb(26,26,26)"/>
<ellipse cx="393.93" cy="138.43" rx="12.52" ry="3.14" fill="rgb(26,26,26)" transform="rotate(-30 393.93 138.43)"/>
<ellipse cx="368.45" cy="146.06" rx="12.52" ry="8.98" fill="rgb(43,43,43)"/>
<ellipse cx="364.87" cy="148.31" rx="8.05" ry="6.29" fill="rgb(61,61,61)"/>
<ellipse cx="362.63" cy="150.56" rx="4.47" ry="3.59" fill="rgb(84,84,84)"/>
</g></g>
<path d="M360.4,126.3H405.1M388.3,107.9V126.3" stroke="#ea8ef5" stroke-width="1.6" fill="none"/>
<rect x="360.4" y="107.9" width="44.70" height="44.90" fill="none" stroke="#6d6e71" stroke-width="1"/>
<line x1="359.90" y1="152.80" x2="405.60" y2="152.80" stroke="#2b2222" stroke-width="1.2"/>
<line x1="360.40" y1="107.40" x2="360.40" y2="152.80" stroke="#4a4a4a" stroke-width="1"/>
<path d="M359.20,113.51h1.6M359.20,122.27h1.6M359.20,133.27h1.6M359.20,144.27h1.6M359.20,151.45h1.6M361.29,152.80v1.3M370.77,152.80v1.3M381.23,152.80v1.3M391.69,152.80v1.3M402.60,152.80v1.3" stroke="#333" stroke-width="0.9" fill="none"/>
<text transform="translate(361.80,117.50) scale(0.86,1)" font-size="10.4" fill="#e010ec" stroke="#e010ec" style="stroke-width:0.3px">27</text>
<text transform="translate(403.80,117.50) scale(0.86,1)" font-size="10.4" text-anchor="end" fill="#e010ec" stroke="#e010ec" style="stroke-width:0.3px">0.1</text>
<clipPath id="cb6"><rect x="419.2" y="108.4" width="44.60" height="44.70"/></clipPath>
<g clip-path="url(#cb6)"><g filter="url(#jet)">
<rect x="414.2" y="103.4" width="54.60" height="54.70" fill="#000"/>
<ellipse cx="437.04" cy="132.99" rx="24.53" ry="13.41" fill="rgb(13,13,13)"/>
<polygon points="416.97,132.99 439.27,131.64 454.88,125.39 466.03,121.81 466.03,155.33 416.97,155.33" fill="rgb(26,26,26)"/>
<polygon points="416.97,136.11 439.27,135.22 454.88,127.17 466.03,123.60 466.03,155.33 416.97,155.33" fill="rgb(43,43,43)"/>
<polygon points="416.97,140.58 437.04,139.69 452.65,131.64 466.03,125.39 466.03,144.16 459.34,155.33 416.97,155.33" fill="rgb(84,84,84)"/>
<ellipse cx="440.16" cy="147.29" rx="8.21" ry="9.25" fill="rgb(133,133,133)"/>
<ellipse cx="456.66" cy="134.33" rx="14.36" ry="5.65" fill="rgb(133,133,133)" transform="rotate(-42 456.66 134.33)"/>
<ellipse cx="440.16" cy="148.18" rx="5.13" ry="5.65" fill="rgb(184,184,184)"/>
<ellipse cx="458.00" cy="132.99" rx="10.26" ry="3.86" fill="rgb(184,184,184)" transform="rotate(-42 458.00 132.99)"/>
<ellipse cx="459.34" cy="131.64" rx="5.13" ry="2.06" fill="rgb(209,209,209)" transform="rotate(-42 459.34 131.64)"/>
</g></g>
<path d="M419.2,125.2H463.8M448.9,108.4V125.2" stroke="#ea8ef5" stroke-width="1.6" fill="none"/>
<rect x="419.2" y="108.4" width="44.60" height="44.70" fill="none" stroke="#6d6e71" stroke-width="1"/>
<line x1="418.70" y1="153.10" x2="464.30" y2="153.10" stroke="#2b2222" stroke-width="1.2"/>
<line x1="419.20" y1="107.90" x2="419.20" y2="153.10" stroke="#4a4a4a" stroke-width="1"/>
<path d="M418.00,113.99h1.6M418.00,122.70h1.6M418.00,133.66h1.6M418.00,144.61h1.6M418.00,151.76h1.6M420.09,153.10v1.3M429.55,153.10v1.3M439.98,153.10v1.3M450.42,153.10v1.3M461.30,153.10v1.3" stroke="#333" stroke-width="0.9" fill="none"/>
<text transform="translate(420.60,118.00) scale(0.86,1)" font-size="10.4" fill="#e010ec" stroke="#e010ec" style="stroke-width:0.3px">0</text>
<text transform="translate(462.50,118.00) scale(0.86,1)" font-size="10.4" text-anchor="end" fill="#e010ec" stroke="#e010ec" style="stroke-width:0.3px">0.2</text>
<clipPath id="cb7"><rect x="466.9" y="108.4" width="45.40" height="44.40"/></clipPath>
<g clip-path="url(#cb7)"><g filter="url(#jet)">
<rect x="461.9" y="103.4" width="55.40" height="54.40" fill="#000"/>
<polygon points="464.63,112.84 514.57,112.84 514.57,155.02 464.63,155.02" fill="rgb(13,13,13)"/>
<polygon points="464.63,112.84 498.68,112.84 500.95,135.04 494.14,155.02 464.63,155.02" fill="rgb(26,26,26)"/>
<polygon points="464.63,113.73 496.41,113.73 497.77,127.05 464.63,127.05" fill="rgb(43,43,43)"/>
<ellipse cx="482.79" cy="135.04" rx="9.08" ry="11.10" fill="rgb(43,43,43)"/>
<ellipse cx="482.79" cy="120.39" rx="13.62" ry="4.88" fill="rgb(61,61,61)"/>
</g></g>
<path d="M466.9,125.2H512.3M496.7,108.4V125.2" stroke="#ea8ef5" stroke-width="1.6" fill="none"/>
<rect x="466.9" y="108.4" width="45.40" height="44.40" fill="none" stroke="#6d6e71" stroke-width="1"/>
<line x1="466.40" y1="152.80" x2="512.80" y2="152.80" stroke="#2b2222" stroke-width="1.2"/>
<line x1="466.90" y1="107.90" x2="466.90" y2="152.80" stroke="#4a4a4a" stroke-width="1"/>
<path d="M465.70,113.95h1.6M465.70,122.61h1.6M465.70,133.49h1.6M465.70,144.36h1.6M465.70,151.47h1.6M467.81,152.80v1.3M477.43,152.80v1.3M488.06,152.80v1.3M498.68,152.80v1.3M509.76,152.80v1.3" stroke="#333" stroke-width="0.9" fill="none"/>
<text transform="translate(468.30,118.00) scale(0.86,1)" font-size="10.4" fill="#e010ec" stroke="#e010ec" style="stroke-width:0.3px">42</text>
<text transform="translate(511.00,118.00) scale(0.86,1)" font-size="10.4" text-anchor="end" fill="#e010ec" stroke="#e010ec" style="stroke-width:0.3px">0.5</text>
<text x="50.2" y="43.48" font-size="6.0" text-anchor="end" fill="#231f20" stroke="#231f20" style="stroke-width:0.15px">10<tspan dy="-2.40" font-size="4.20">5</tspan></text>
<text x="50.2" y="52.67" font-size="6.0" text-anchor="end" fill="#231f20" stroke="#231f20" style="stroke-width:0.15px">10<tspan dy="-2.40" font-size="4.20">4</tspan></text>
<text x="50.2" y="62.97" font-size="6.0" text-anchor="end" fill="#231f20" stroke="#231f20" style="stroke-width:0.15px">10<tspan dy="-2.40" font-size="4.20">3</tspan></text>
<text x="50.2" y="73.50" font-size="6.0" text-anchor="end" fill="#231f20" stroke="#231f20" style="stroke-width:0.15px">10<tspan dy="-2.40" font-size="4.20">2</tspan></text>
<text x="50.2" y="80.89" font-size="6.0" text-anchor="end" fill="#231f20" stroke="#231f20" style="stroke-width:0.15px">0</text>
<text x="50.6" y="110.46" font-size="6.0" text-anchor="end" fill="#231f20" stroke="#231f20" style="stroke-width:0.15px">10<tspan dy="-2.40" font-size="4.20">5</tspan></text>
<text x="50.6" y="119.77" font-size="6.0" text-anchor="end" fill="#231f20" stroke="#231f20" style="stroke-width:0.15px">10<tspan dy="-2.40" font-size="4.20">4</tspan></text>
<text x="50.6" y="130.21" font-size="6.0" text-anchor="end" fill="#231f20" stroke="#231f20" style="stroke-width:0.15px">10<tspan dy="-2.40" font-size="4.20">3</tspan></text>
<text x="50.6" y="140.88" font-size="6.0" text-anchor="end" fill="#231f20" stroke="#231f20" style="stroke-width:0.15px">10<tspan dy="-2.40" font-size="4.20">2</tspan></text>
<text x="50.6" y="148.37" font-size="6.0" text-anchor="end" fill="#231f20" stroke="#231f20" style="stroke-width:0.15px">0</text>
<text x="51.4" y="181.16" font-size="6.0" text-anchor="end" fill="#231f20" stroke="#231f20" style="stroke-width:0.15px">10<tspan dy="-2.40" font-size="4.20">5</tspan></text>
<text x="51.4" y="190.30" font-size="6.0" text-anchor="end" fill="#231f20" stroke="#231f20" style="stroke-width:0.15px">10<tspan dy="-2.40" font-size="4.20">4</tspan></text>
<text x="51.4" y="200.56" font-size="6.0" text-anchor="end" fill="#231f20" stroke="#231f20" style="stroke-width:0.15px">10<tspan dy="-2.40" font-size="4.20">3</tspan></text>
<text x="51.4" y="211.04" font-size="6.0" text-anchor="end" fill="#231f20" stroke="#231f20" style="stroke-width:0.15px">10<tspan dy="-2.40" font-size="4.20">2</tspan></text>
<text x="51.4" y="218.40" font-size="6.0" text-anchor="end" fill="#231f20" stroke="#231f20" style="stroke-width:0.15px">0</text>
<text x="305.5" y="44.44" font-size="6.0" text-anchor="end" fill="#231f20" stroke="#231f20" style="stroke-width:0.15px">10<tspan dy="-2.40" font-size="4.20">5</tspan></text>
<text x="305.5" y="53.70" font-size="6.0" text-anchor="end" fill="#231f20" stroke="#231f20" style="stroke-width:0.15px">10<tspan dy="-2.40" font-size="4.20">4</tspan></text>
<text x="305.5" y="64.10" font-size="6.0" text-anchor="end" fill="#231f20" stroke="#231f20" style="stroke-width:0.15px">10<tspan dy="-2.40" font-size="4.20">3</tspan></text>
<text x="305.5" y="74.72" font-size="6.0" text-anchor="end" fill="#231f20" stroke="#231f20" style="stroke-width:0.15px">10<tspan dy="-2.40" font-size="4.20">2</tspan></text>
<text x="305.5" y="82.18" font-size="6.0" text-anchor="end" fill="#231f20" stroke="#231f20" style="stroke-width:0.15px">0</text>
<text x="305.7" y="115.72" font-size="6.0" text-anchor="end" fill="#231f20" stroke="#231f20" style="stroke-width:0.15px">10<tspan dy="-2.40" font-size="4.20">5</tspan></text>
<text x="305.7" y="124.97" font-size="6.0" text-anchor="end" fill="#231f20" stroke="#231f20" style="stroke-width:0.15px">10<tspan dy="-2.40" font-size="4.20">4</tspan></text>
<text x="305.7" y="135.34" font-size="6.0" text-anchor="end" fill="#231f20" stroke="#231f20" style="stroke-width:0.15px">10<tspan dy="-2.40" font-size="4.20">3</tspan></text>
<text x="305.7" y="145.94" font-size="6.0" text-anchor="end" fill="#231f20" stroke="#231f20" style="stroke-width:0.15px">10<tspan dy="-2.40" font-size="4.20">2</tspan></text>
<text x="305.7" y="153.38" font-size="6.0" text-anchor="end" fill="#231f20" stroke="#231f20" style="stroke-width:0.15px">0</text>
<text x="55.31" y="91.0" font-size="6.0" text-anchor="middle" fill="#231f20" stroke="#231f20" style="stroke-width:0.15px">0</text>
<text x="64.93" y="91.0" font-size="6.0" text-anchor="middle" fill="#231f20" stroke="#231f20" style="stroke-width:0.15px">10<tspan dy="-2.40" font-size="4.20">2</tspan></text>
<text x="75.56" y="91.0" font-size="6.0" text-anchor="middle" fill="#231f20" stroke="#231f20" style="stroke-width:0.15px">10<tspan dy="-2.40" font-size="4.20">3</tspan></text>
<text x="86.18" y="91.0" font-size="6.0" text-anchor="middle" fill="#231f20" stroke="#231f20" style="stroke-width:0.15px">10<tspan dy="-2.40" font-size="4.20">4</tspan></text>
<text x="97.26" y="91.0" font-size="6.0" text-anchor="middle" fill="#231f20" stroke="#231f20" style="stroke-width:0.15px">10<tspan dy="-2.40" font-size="4.20">5</tspan></text>
<text x="56.31" y="159.0" font-size="6.0" text-anchor="middle" fill="#231f20" stroke="#231f20" style="stroke-width:0.15px">0</text>
<text x="65.93" y="159.0" font-size="6.0" text-anchor="middle" fill="#231f20" stroke="#231f20" style="stroke-width:0.15px">10<tspan dy="-2.40" font-size="4.20">2</tspan></text>
<text x="76.56" y="159.0" font-size="6.0" text-anchor="middle" fill="#231f20" stroke="#231f20" style="stroke-width:0.15px">10<tspan dy="-2.40" font-size="4.20">3</tspan></text>
<text x="87.18" y="159.0" font-size="6.0" text-anchor="middle" fill="#231f20" stroke="#231f20" style="stroke-width:0.15px">10<tspan dy="-2.40" font-size="4.20">4</tspan></text>
<text x="98.26" y="159.0" font-size="6.0" text-anchor="middle" fill="#231f20" stroke="#231f20" style="stroke-width:0.15px">10<tspan dy="-2.40" font-size="4.20">5</tspan></text>
<text x="57.30" y="228.6" font-size="6.0" text-anchor="middle" fill="#231f20" stroke="#231f20" style="stroke-width:0.15px">0</text>
<text x="66.89" y="228.6" font-size="6.0" text-anchor="middle" fill="#231f20" stroke="#231f20" style="stroke-width:0.15px">10<tspan dy="-2.40" font-size="4.20">2</tspan></text>
<text x="77.46" y="228.6" font-size="6.0" text-anchor="middle" fill="#231f20" stroke="#231f20" style="stroke-width:0.15px">10<tspan dy="-2.40" font-size="4.20">3</tspan></text>
<text x="88.04" y="228.6" font-size="6.0" text-anchor="middle" fill="#231f20" stroke="#231f20" style="stroke-width:0.15px">10<tspan dy="-2.40" font-size="4.20">4</tspan></text>
<text x="99.07" y="228.6" font-size="6.0" text-anchor="middle" fill="#231f20" stroke="#231f20" style="stroke-width:0.15px">10<tspan dy="-2.40" font-size="4.20">5</tspan></text>
<text x="310.30" y="93.4" font-size="6.0" text-anchor="middle" fill="#231f20" stroke="#231f20" style="stroke-width:0.15px">0</text>
<text x="319.89" y="93.4" font-size="6.0" text-anchor="middle" fill="#231f20" stroke="#231f20" style="stroke-width:0.15px">10<tspan dy="-2.40" font-size="4.20">2</tspan></text>
<text x="330.46" y="93.4" font-size="6.0" text-anchor="middle" fill="#231f20" stroke="#231f20" style="stroke-width:0.15px">10<tspan dy="-2.40" font-size="4.20">3</tspan></text>
<text x="341.04" y="93.4" font-size="6.0" text-anchor="middle" fill="#231f20" stroke="#231f20" style="stroke-width:0.15px">10<tspan dy="-2.40" font-size="4.20">4</tspan></text>
<text x="352.07" y="93.4" font-size="6.0" text-anchor="middle" fill="#231f20" stroke="#231f20" style="stroke-width:0.15px">10<tspan dy="-2.40" font-size="4.20">5</tspan></text>
<text x="310.61" y="164.6" font-size="6.0" text-anchor="middle" fill="#231f20" stroke="#231f20" style="stroke-width:0.15px">0</text>
<text x="320.23" y="164.6" font-size="6.0" text-anchor="middle" fill="#231f20" stroke="#231f20" style="stroke-width:0.15px">10<tspan dy="-2.40" font-size="4.20">2</tspan></text>
<text x="330.86" y="164.6" font-size="6.0" text-anchor="middle" fill="#231f20" stroke="#231f20" style="stroke-width:0.15px">10<tspan dy="-2.40" font-size="4.20">3</tspan></text>
<text x="341.48" y="164.6" font-size="6.0" text-anchor="middle" fill="#231f20" stroke="#231f20" style="stroke-width:0.15px">10<tspan dy="-2.40" font-size="4.20">4</tspan></text>
<text x="352.56" y="164.6" font-size="6.0" text-anchor="middle" fill="#231f20" stroke="#231f20" style="stroke-width:0.15px">10<tspan dy="-2.40" font-size="4.20">5</tspan></text>
<text x="59.8" y="99.6" font-size="9.2" textLength="22.2" lengthAdjust="spacingAndGlyphs" fill="#231f20" stroke="#231f20" style="stroke-width:0.32px">PD-L1</text>
<line x1="97.2" y1="96.5" x2="251.2" y2="96.5" stroke="#231f20" stroke-width="1"/>
<path d="M255.2,96.5 L249.0,93.8 L250.39999999999998,96.5 L249.0,99.2 Z" fill="#231f20"/>
<text x="59.8" y="168.5" font-size="9.2" textLength="22.4" lengthAdjust="spacingAndGlyphs" fill="#231f20" stroke="#231f20" style="stroke-width:0.32px">PD-L2</text>
<line x1="97.2" y1="165.5" x2="251.0" y2="165.5" stroke="#231f20" stroke-width="1"/>
<path d="M255.0,165.5 L248.8,162.8 L250.2,165.5 L248.8,168.2 Z" fill="#231f20"/>
<text x="59.7" y="240.8" font-size="10.8" textLength="23.3" lengthAdjust="spacingAndGlyphs" fill="#231f20" stroke="#231f20" style="stroke-width:0.32px">CD155</text>
<line x1="96.5" y1="237.5" x2="250.4" y2="237.5" stroke="#231f20" stroke-width="1"/>
<path d="M254.4,237.5 L248.20000000000002,234.8 L249.6,237.5 L248.20000000000002,240.2 Z" fill="#231f20"/>
<text x="0" y="0" font-size="12" fill="#231f20" stroke="#231f20" transform="translate(32.9,213.8) rotate(-90)" textLength="24.2" lengthAdjust="spacingAndGlyphs">CD138</text>
<line x1="29.5" y1="185" x2="29.5" y2="43.8" stroke="#231f20" stroke-width="1"/>
<path d="M29.5,39.8 L26.8,46.0 L29.5,44.599999999999994 L32.2,46.0 Z" fill="#231f20"/>
<text x="313.8" y="102.2" font-size="9.0" textLength="24.5" lengthAdjust="spacingAndGlyphs" fill="#231f20" stroke="#231f20" style="stroke-width:0.32px">MHC-I</text>
<line x1="351.3" y1="99.5" x2="505.6" y2="99.5" stroke="#231f20" stroke-width="1"/>
<path d="M509.6,99.5 L503.40000000000003,96.8 L504.8,99.5 L503.40000000000003,102.2 Z" fill="#231f20"/>
<text x="311.5" y="175.5" font-size="9.4" textLength="24.5" lengthAdjust="spacingAndGlyphs" fill="#231f20" stroke="#231f20" style="stroke-width:0.32px">MHC-II</text>
<line x1="343.4" y1="172.5" x2="498.6" y2="172.5" stroke="#231f20" stroke-width="1"/>
<path d="M502.6,172.5 L496.40000000000003,169.8 L497.8,172.5 L496.40000000000003,175.2 Z" fill="#231f20"/>
<text x="0" y="0" font-size="10.6" fill="#231f20" stroke="#231f20" transform="translate(288.9,147) rotate(-90)" textLength="23.2" lengthAdjust="spacingAndGlyphs">CD138</text>
<line x1="285.5" y1="120.5" x2="285.5" y2="41.7" stroke="#231f20" stroke-width="1"/>
<path d="M285.5,37.7 L282.8,43.900000000000006 L285.5,42.5 L288.2,43.900000000000006 Z" fill="#231f20"/>
<line x1="53.5" y1="266.4" x2="53.5" y2="372.3" stroke="#231f20" stroke-width="1"/>
<line x1="50.1" y1="372.5" x2="53.1" y2="372.5" stroke="#231f20" stroke-width="1"/>
<text x="46.9" y="375.40" font-size="8.5" text-anchor="end" fill="#231f20" stroke="#231f20">0</text>
<line x1="50.1" y1="346.5" x2="53.1" y2="346.5" stroke="#231f20" stroke-width="1"/>
<text x="46.9" y="349.50" font-size="8.5" text-anchor="end" fill="#231f20" stroke="#231f20">20</text>
<line x1="50.1" y1="320.5" x2="53.1" y2="320.5" stroke="#231f20" stroke-width="1"/>
<text x="46.9" y="323.70" font-size="8.5" text-anchor="end" fill="#231f20" stroke="#231f20">40</text>
<line x1="50.1" y1="294.5" x2="53.1" y2="294.5" stroke="#231f20" stroke-width="1"/>
<text x="46.9" y="297.80" font-size="8.5" text-anchor="end" fill="#231f20" stroke="#231f20">60</text>
<line x1="50.1" y1="268.5" x2="53.1" y2="268.5" stroke="#231f20" stroke-width="1"/>
<text x="46.9" y="272.00" font-size="8.5" text-anchor="end" fill="#231f20" stroke="#231f20">80</text>
<line x1="53.1" y1="372.5" x2="308.1" y2="372.5" stroke="#231f20" stroke-width="1"/>
<line x1="53.5" y1="372.3" x2="53.5" y2="375.3" stroke="#231f20" stroke-width="1"/>
<line x1="74.5" y1="372.3" x2="74.5" y2="375.3" stroke="#231f20" stroke-width="1"/>
<line x1="95.5" y1="372.3" x2="95.5" y2="375.3" stroke="#231f20" stroke-width="1"/>
<line x1="116.5" y1="372.3" x2="116.5" y2="375.3" stroke="#231f20" stroke-width="1"/>
<line x1="137.5" y1="372.3" x2="137.5" y2="375.3" stroke="#231f20" stroke-width="1"/>
<line x1="158.5" y1="372.3" x2="158.5" y2="375.3" stroke="#231f20" stroke-width="1"/>
<line x1="179.5" y1="372.3" x2="179.5" y2="375.3" stroke="#231f20" stroke-width="1"/>
<line x1="200.5" y1="372.3" x2="200.5" y2="375.3" stroke="#231f20" stroke-width="1"/>
<line x1="221.5" y1="372.3" x2="221.5" y2="375.3" stroke="#231f20" stroke-width="1"/>
<line x1="242.5" y1="372.3" x2="242.5" y2="375.3" stroke="#231f20" stroke-width="1"/>
<line x1="263.5" y1="372.3" x2="263.5" y2="375.3" stroke="#231f20" stroke-width="1"/>
<line x1="284.5" y1="372.3" x2="284.5" y2="375.3" stroke="#231f20" stroke-width="1"/>
<line x1="305.5" y1="372.3" x2="305.5" y2="375.3" stroke="#231f20" stroke-width="1"/>
<line x1="59.5" y1="326.3" x2="59.5" y2="334" stroke="#231f20" stroke-width="1"/>
<line x1="58.45" y1="326.5" x2="61.05" y2="326.5" stroke="#231f20" stroke-width="1"/>
<rect x="56.30" y="334.00" width="6.90" height="38.30" fill="#532461"/>
<line x1="68.5" y1="335.6" x2="68.5" y2="345.2" stroke="#231f20" stroke-width="1"/>
<line x1="67.15" y1="336.5" x2="69.75" y2="336.5" stroke="#231f20" stroke-width="1"/>
<rect x="65.00" y="345.20" width="6.90" height="27.10" fill="#a5042f"/>
<text x="63.60" y="385.7" font-size="8.2" text-anchor="middle" fill="#231f20" stroke="#231f20">BM</text>
<line x1="80.5" y1="355.6" x2="80.5" y2="360.6" stroke="#231f20" stroke-width="1"/>
<line x1="79.45" y1="356.5" x2="82.05" y2="356.5" stroke="#231f20" stroke-width="1"/>
<rect x="77.30" y="360.60" width="6.90" height="11.70" fill="#532461"/>
<line x1="89.5" y1="289.6" x2="89.5" y2="335" stroke="#231f20" stroke-width="1"/>
<line x1="88.15" y1="290.5" x2="90.75" y2="290.5" stroke="#231f20" stroke-width="1"/>
<rect x="86.00" y="335.00" width="6.90" height="37.30" fill="#a5042f"/>
<text x="84.60" y="385.7" font-size="8.2" text-anchor="middle" fill="#231f20" stroke="#231f20">SP</text>
<line x1="101.5" y1="363.3" x2="101.5" y2="365.2" stroke="#231f20" stroke-width="1"/>
<line x1="100.45" y1="363.5" x2="103.05" y2="363.5" stroke="#231f20" stroke-width="1"/>
<rect x="98.30" y="365.20" width="6.90" height="7.10" fill="#532461"/>
<line x1="110.5" y1="362" x2="110.5" y2="364.6" stroke="#231f20" stroke-width="1"/>
<line x1="109.15" y1="362.5" x2="111.75" y2="362.5" stroke="#231f20" stroke-width="1"/>
<rect x="107.00" y="364.60" width="6.90" height="7.70" fill="#a5042f"/>
<text x="105.60" y="385.7" font-size="8.2" text-anchor="middle" fill="#231f20" stroke="#231f20">LN</text>
<line x1="122.5" y1="315" x2="122.5" y2="325" stroke="#231f20" stroke-width="1"/>
<line x1="121.45" y1="315.5" x2="124.05" y2="315.5" stroke="#231f20" stroke-width="1"/>
<rect x="119.30" y="325.00" width="6.90" height="47.30" fill="#532461"/>
<line x1="131.5" y1="309.6" x2="131.5" y2="325" stroke="#231f20" stroke-width="1"/>
<line x1="130.14999999999998" y1="310.5" x2="132.75" y2="310.5" stroke="#231f20" stroke-width="1"/>
<rect x="128.00" y="325.00" width="6.90" height="47.30" fill="#a5042f"/>
<text x="126.60" y="385.7" font-size="8.2" text-anchor="middle" fill="#231f20" stroke="#231f20">BM</text>
<line x1="143.5" y1="343.3" x2="143.5" y2="351.9" stroke="#231f20" stroke-width="1"/>
<line x1="142.45" y1="343.5" x2="145.05" y2="343.5" stroke="#231f20" stroke-width="1"/>
<rect x="140.30" y="351.90" width="6.90" height="20.40" fill="#532461"/>
<line x1="152.5" y1="328.5" x2="152.5" y2="339.4" stroke="#231f20" stroke-width="1"/>
<line x1="151.14999999999998" y1="329.5" x2="153.75" y2="329.5" stroke="#231f20" stroke-width="1"/>
<rect x="149.00" y="339.40" width="6.90" height="32.90" fill="#a5042f"/>
<text x="147.60" y="385.7" font-size="8.2" text-anchor="middle" fill="#231f20" stroke="#231f20">SP</text>
<line x1="164.5" y1="359.2" x2="164.5" y2="361.2" stroke="#231f20" stroke-width="1"/>
<line x1="163.45" y1="359.5" x2="166.05" y2="359.5" stroke="#231f20" stroke-width="1"/>
<rect x="161.30" y="361.20" width="6.90" height="11.10" fill="#532461"/>
<line x1="173.5" y1="353.5" x2="173.5" y2="358.8" stroke="#231f20" stroke-width="1"/>
<line x1="172.14999999999998" y1="354.5" x2="174.75" y2="354.5" stroke="#231f20" stroke-width="1"/>
<rect x="170.00" y="358.80" width="6.90" height="13.50" fill="#a5042f"/>
<text x="168.60" y="385.7" font-size="8.2" text-anchor="middle" fill="#231f20" stroke="#231f20">LN</text>
<line x1="185.5" y1="344.8" x2="185.5" y2="351.2" stroke="#231f20" stroke-width="1"/>
<line x1="184.45" y1="345.5" x2="187.05" y2="345.5" stroke="#231f20" stroke-width="1"/>
<rect x="182.30" y="351.20" width="6.90" height="21.10" fill="#532461"/>
<line x1="194.5" y1="344.8" x2="194.5" y2="357.3" stroke="#231f20" stroke-width="1"/>
<line x1="193.14999999999998" y1="345.5" x2="195.75" y2="345.5" stroke="#231f20" stroke-width="1"/>
<rect x="191.00" y="357.30" width="6.90" height="15.00" fill="#a5042f"/>
<text x="189.60" y="385.7" font-size="8.2" text-anchor="middle" fill="#231f20" stroke="#231f20">BM</text>
<line x1="206.5" y1="359.6" x2="206.5" y2="363.3" stroke="#231f20" stroke-width="1"/>
<line x1="205.45" y1="360.5" x2="208.05" y2="360.5" stroke="#231f20" stroke-width="1"/>
<rect x="203.30" y="363.30" width="6.90" height="9.00" fill="#532461"/>
<line x1="215.5" y1="283.4" x2="215.5" y2="326.9" stroke="#231f20" stroke-width="1"/>
<line x1="214.14999999999998" y1="283.5" x2="216.75" y2="283.5" stroke="#231f20" stroke-width="1"/>
<rect x="212.00" y="326.90" width="6.90" height="45.40" fill="#a5042f"/>
<text x="210.60" y="385.7" font-size="8.2" text-anchor="middle" fill="#231f20" stroke="#231f20">SP</text>
<line x1="227.5" y1="360.3" x2="227.5" y2="363.2" stroke="#231f20" stroke-width="1"/>
<line x1="226.45" y1="360.5" x2="229.05" y2="360.5" stroke="#231f20" stroke-width="1"/>
<rect x="224.30" y="363.20" width="6.90" height="9.10" fill="#532461"/>
<line x1="236.5" y1="366.3" x2="236.5" y2="368.5" stroke="#231f20" stroke-width="1"/>
<line x1="235.14999999999998" y1="366.5" x2="237.75" y2="366.5" stroke="#231f20" stroke-width="1"/>
<rect x="233.00" y="368.50" width="6.90" height="3.80" fill="#a5042f"/>
<text x="231.60" y="385.7" font-size="8.2" text-anchor="middle" fill="#231f20" stroke="#231f20">LN</text>
<line x1="248.5" y1="346.2" x2="248.5" y2="355.9" stroke="#231f20" stroke-width="1"/>
<line x1="247.45" y1="346.5" x2="250.05" y2="346.5" stroke="#231f20" stroke-width="1"/>
<rect x="245.30" y="355.90" width="6.90" height="16.40" fill="#532461"/>
<line x1="257.5" y1="273" x2="257.5" y2="322.7" stroke="#231f20" stroke-width="1"/>
<line x1="256.15" y1="273.5" x2="258.75" y2="273.5" stroke="#231f20" stroke-width="1"/>
<rect x="254.00" y="322.70" width="6.90" height="49.60" fill="#a5042f"/>
<text x="252.60" y="385.7" font-size="8.2" text-anchor="middle" fill="#231f20" stroke="#231f20">BM</text>
<line x1="269.5" y1="362.9" x2="269.5" y2="366.8" stroke="#231f20" stroke-width="1"/>
<line x1="268.45" y1="363.5" x2="271.05" y2="363.5" stroke="#231f20" stroke-width="1"/>
<rect x="266.30" y="366.80" width="6.90" height="5.50" fill="#532461"/>
<line x1="278.5" y1="317.4" x2="278.5" y2="339.9" stroke="#231f20" stroke-width="1"/>
<line x1="277.15" y1="317.5" x2="279.75" y2="317.5" stroke="#231f20" stroke-width="1"/>
<rect x="275.00" y="339.90" width="6.90" height="32.40" fill="#a5042f"/>
<text x="273.60" y="385.7" font-size="8.2" text-anchor="middle" fill="#231f20" stroke="#231f20">SP</text>
<line x1="290.5" y1="368.7" x2="290.5" y2="369.7" stroke="#231f20" stroke-width="1"/>
<line x1="289.45" y1="369.5" x2="292.05" y2="369.5" stroke="#231f20" stroke-width="1"/>
<rect x="287.30" y="369.70" width="6.90" height="2.60" fill="#532461"/>
<line x1="299.5" y1="367.3" x2="299.5" y2="368.7" stroke="#231f20" stroke-width="1"/>
<line x1="298.15" y1="367.5" x2="300.75" y2="367.5" stroke="#231f20" stroke-width="1"/>
<rect x="296.00" y="368.70" width="6.90" height="3.60" fill="#a5042f"/>
<text x="294.60" y="385.7" font-size="8.2" text-anchor="middle" fill="#231f20" stroke="#231f20">LN</text>
<line x1="141.2" y1="316.5" x2="156.6" y2="316.5" stroke="#231f20" stroke-width="1"/>
<text x="148.90" y="317.80" font-size="9" text-anchor="middle" fill="#231f20" stroke="#231f20">*</text>
<line x1="224.0" y1="351.5" x2="239.6" y2="351.5" stroke="#231f20" stroke-width="1"/>
<text x="231.80" y="352.70" font-size="9" text-anchor="middle" fill="#231f20" stroke="#231f20">*</text>
<line x1="266.2" y1="307.5" x2="282.0" y2="307.5" stroke="#231f20" stroke-width="1"/>
<text x="274.10" y="308.10" font-size="9" text-anchor="middle" fill="#231f20" stroke="#231f20">*</text>
<line x1="53.5" y1="452.4" x2="53.5" y2="558.3" stroke="#231f20" stroke-width="1"/>
<line x1="50.0" y1="558.5" x2="53.0" y2="558.5" stroke="#231f20" stroke-width="1"/>
<text x="46.8" y="561.40" font-size="8.5" text-anchor="end" fill="#231f20" stroke="#231f20">0</text>
<line x1="50.0" y1="537.5" x2="53.0" y2="537.5" stroke="#231f20" stroke-width="1"/>
<text x="46.8" y="540.70" font-size="8.5" text-anchor="end" fill="#231f20" stroke="#231f20">20</text>
<line x1="50.0" y1="516.5" x2="53.0" y2="516.5" stroke="#231f20" stroke-width="1"/>
<text x="46.8" y="520.00" font-size="8.5" text-anchor="end" fill="#231f20" stroke="#231f20">40</text>
<line x1="50.0" y1="496.5" x2="53.0" y2="496.5" stroke="#231f20" stroke-width="1"/>
<text x="46.8" y="499.40" font-size="8.5" text-anchor="end" fill="#231f20" stroke="#231f20">60</text>
<line x1="50.0" y1="475.5" x2="53.0" y2="475.5" stroke="#231f20" stroke-width="1"/>
<text x="46.8" y="478.70" font-size="8.5" text-anchor="end" fill="#231f20" stroke="#231f20">80</text>
<line x1="50.0" y1="454.5" x2="53.0" y2="454.5" stroke="#231f20" stroke-width="1"/>
<text x="46.8" y="458.00" font-size="8.5" text-anchor="end" fill="#231f20" stroke="#231f20">100</text>
<line x1="53.0" y1="558.5" x2="310.4" y2="558.5" stroke="#231f20" stroke-width="1"/>
<line x1="53.5" y1="558.3" x2="53.5" y2="561.3" stroke="#231f20" stroke-width="1"/>
<line x1="74.5" y1="558.3" x2="74.5" y2="561.3" stroke="#231f20" stroke-width="1"/>
<line x1="95.5" y1="558.3" x2="95.5" y2="561.3" stroke="#231f20" stroke-width="1"/>
<line x1="116.5" y1="558.3" x2="116.5" y2="561.3" stroke="#231f20" stroke-width="1"/>
<line x1="137.5" y1="558.3" x2="137.5" y2="561.3" stroke="#231f20" stroke-width="1"/>
<line x1="159.5" y1="558.3" x2="159.5" y2="561.3" stroke="#231f20" stroke-width="1"/>
<line x1="180.5" y1="558.3" x2="180.5" y2="561.3" stroke="#231f20" stroke-width="1"/>
<line x1="201.5" y1="558.3" x2="201.5" y2="561.3" stroke="#231f20" stroke-width="1"/>
<line x1="222.5" y1="558.3" x2="222.5" y2="561.3" stroke="#231f20" stroke-width="1"/>
<line x1="243.5" y1="558.3" x2="243.5" y2="561.3" stroke="#231f20" stroke-width="1"/>
<line x1="265.5" y1="558.3" x2="265.5" y2="561.3" stroke="#231f20" stroke-width="1"/>
<line x1="286.5" y1="558.3" x2="286.5" y2="561.3" stroke="#231f20" stroke-width="1"/>
<line x1="307.5" y1="558.3" x2="307.5" y2="561.3" stroke="#231f20" stroke-width="1"/>
<line x1="59.5" y1="527.5" x2="59.5" y2="535.6" stroke="#231f20" stroke-width="1"/>
<line x1="58.6" y1="528.5" x2="61.199999999999996" y2="528.5" stroke="#231f20" stroke-width="1"/>
<rect x="56.40" y="535.60" width="7.00" height="22.70" fill="#532461"/>
<line x1="68.5" y1="493.5" x2="68.5" y2="507.9" stroke="#231f20" stroke-width="1"/>
<line x1="67.3" y1="494.5" x2="69.89999999999999" y2="494.5" stroke="#231f20" stroke-width="1"/>
<rect x="65.10" y="507.90" width="7.00" height="50.40" fill="#a5042f"/>
<text x="63.60" y="572.4" font-size="8.2" text-anchor="middle" fill="#231f20" stroke="#231f20">BM</text>
<line x1="81.5" y1="538.5" x2="81.5" y2="543.5" stroke="#231f20" stroke-width="1"/>
<line x1="79.8" y1="539.5" x2="82.39999999999999" y2="539.5" stroke="#231f20" stroke-width="1"/>
<rect x="77.60" y="543.50" width="7.00" height="14.80" fill="#532461"/>
<line x1="89.5" y1="509.2" x2="89.5" y2="528.1" stroke="#231f20" stroke-width="1"/>
<line x1="88.5" y1="509.5" x2="91.1" y2="509.5" stroke="#231f20" stroke-width="1"/>
<rect x="86.30" y="528.10" width="7.00" height="30.20" fill="#a5042f"/>
<text x="84.80" y="572.4" font-size="8.2" text-anchor="middle" fill="#231f20" stroke="#231f20">SP</text>
<line x1="102.5" y1="543.8" x2="102.5" y2="548.1" stroke="#231f20" stroke-width="1"/>
<line x1="101.0" y1="544.5" x2="103.6" y2="544.5" stroke="#231f20" stroke-width="1"/>
<rect x="98.80" y="548.10" width="7.00" height="10.20" fill="#532461"/>
<line x1="111.5" y1="503.1" x2="111.5" y2="518.8" stroke="#231f20" stroke-width="1"/>
<line x1="109.7" y1="503.5" x2="112.3" y2="503.5" stroke="#231f20" stroke-width="1"/>
<rect x="107.50" y="518.80" width="7.00" height="39.50" fill="#a5042f"/>
<text x="106.00" y="572.4" font-size="8.2" text-anchor="middle" fill="#231f20" stroke="#231f20">LN</text>
<line x1="123.5" y1="521.3" x2="123.5" y2="527.9" stroke="#231f20" stroke-width="1"/>
<line x1="122.2" y1="521.5" x2="124.8" y2="521.5" stroke="#231f20" stroke-width="1"/>
<rect x="120.00" y="527.90" width="7.00" height="30.40" fill="#532461"/>
<line x1="132.5" y1="492.3" x2="132.5" y2="504" stroke="#231f20" stroke-width="1"/>
<line x1="130.89999999999998" y1="492.5" x2="133.5" y2="492.5" stroke="#231f20" stroke-width="1"/>
<rect x="128.70" y="504.00" width="7.00" height="54.30" fill="#a5042f"/>
<text x="127.20" y="572.4" font-size="8.2" text-anchor="middle" fill="#231f20" stroke="#231f20">BM</text>
<line x1="144.5" y1="526.5" x2="144.5" y2="533.3" stroke="#231f20" stroke-width="1"/>
<line x1="143.39999999999998" y1="527.5" x2="146.0" y2="527.5" stroke="#231f20" stroke-width="1"/>
<rect x="141.20" y="533.30" width="7.00" height="25.00" fill="#532461"/>
<line x1="153.5" y1="506.3" x2="153.5" y2="521.7" stroke="#231f20" stroke-width="1"/>
<line x1="152.09999999999997" y1="506.5" x2="154.7" y2="506.5" stroke="#231f20" stroke-width="1"/>
<rect x="149.90" y="521.70" width="7.00" height="36.60" fill="#a5042f"/>
<text x="148.40" y="572.4" font-size="8.2" text-anchor="middle" fill="#231f20" stroke="#231f20">SP</text>
<line x1="165.5" y1="538.5" x2="165.5" y2="541.3" stroke="#231f20" stroke-width="1"/>
<line x1="164.6" y1="539.5" x2="167.20000000000002" y2="539.5" stroke="#231f20" stroke-width="1"/>
<rect x="162.40" y="541.30" width="7.00" height="17.00" fill="#532461"/>
<line x1="174.5" y1="487.1" x2="174.5" y2="511.5" stroke="#231f20" stroke-width="1"/>
<line x1="173.29999999999998" y1="487.5" x2="175.9" y2="487.5" stroke="#231f20" stroke-width="1"/>
<rect x="171.10" y="511.50" width="7.00" height="46.80" fill="#a5042f"/>
<text x="169.60" y="572.4" font-size="8.2" text-anchor="middle" fill="#231f20" stroke="#231f20">LN</text>
<line x1="187.5" y1="503.5" x2="187.5" y2="529.8" stroke="#231f20" stroke-width="1"/>
<line x1="185.79999999999998" y1="504.5" x2="188.4" y2="504.5" stroke="#231f20" stroke-width="1"/>
<rect x="183.60" y="529.80" width="7.00" height="28.50" fill="#532461"/>
<line x1="195.5" y1="482.3" x2="195.5" y2="496.2" stroke="#231f20" stroke-width="1"/>
<line x1="194.49999999999997" y1="482.5" x2="197.1" y2="482.5" stroke="#231f20" stroke-width="1"/>
<rect x="192.30" y="496.20" width="7.00" height="62.10" fill="#a5042f"/>
<text x="190.80" y="572.4" font-size="8.2" text-anchor="middle" fill="#231f20" stroke="#231f20">BM</text>
<line x1="208.5" y1="548.1" x2="208.5" y2="552.9" stroke="#231f20" stroke-width="1"/>
<line x1="207.0" y1="548.5" x2="209.60000000000002" y2="548.5" stroke="#231f20" stroke-width="1"/>
<rect x="204.80" y="552.90" width="7.00" height="5.40" fill="#532461"/>
<line x1="217.5" y1="491.7" x2="217.5" y2="503.2" stroke="#231f20" stroke-width="1"/>
<line x1="215.7" y1="492.5" x2="218.3" y2="492.5" stroke="#231f20" stroke-width="1"/>
<rect x="213.50" y="503.20" width="7.00" height="55.10" fill="#a5042f"/>
<text x="212.00" y="572.4" font-size="8.2" text-anchor="middle" fill="#231f20" stroke="#231f20">SP</text>
<line x1="229.5" y1="549" x2="229.5" y2="553.5" stroke="#231f20" stroke-width="1"/>
<line x1="228.2" y1="549.5" x2="230.8" y2="549.5" stroke="#231f20" stroke-width="1"/>
<rect x="226.00" y="553.50" width="7.00" height="4.80" fill="#532461"/>
<line x1="238.5" y1="467.3" x2="238.5" y2="492.5" stroke="#231f20" stroke-width="1"/>
<line x1="236.89999999999998" y1="467.5" x2="239.5" y2="467.5" stroke="#231f20" stroke-width="1"/>
<rect x="234.70" y="492.50" width="7.00" height="65.80" fill="#a5042f"/>
<text x="233.20" y="572.4" font-size="8.2" text-anchor="middle" fill="#231f20" stroke="#231f20">LN</text>
<line x1="250.5" y1="503.1" x2="250.5" y2="528.2" stroke="#231f20" stroke-width="1"/>
<line x1="249.39999999999998" y1="503.5" x2="252.0" y2="503.5" stroke="#231f20" stroke-width="1"/>
<rect x="247.20" y="528.20" width="7.00" height="30.10" fill="#532461"/>
<line x1="259.5" y1="494" x2="259.5" y2="509.8" stroke="#231f20" stroke-width="1"/>
<line x1="258.09999999999997" y1="494.5" x2="260.7" y2="494.5" stroke="#231f20" stroke-width="1"/>
<rect x="255.90" y="509.80" width="7.00" height="48.50" fill="#a5042f"/>
<text x="254.40" y="572.4" font-size="8.2" text-anchor="middle" fill="#231f20" stroke="#231f20">BM</text>
<line x1="271.5" y1="549.4" x2="271.5" y2="553.3" stroke="#231f20" stroke-width="1"/>
<line x1="270.59999999999997" y1="549.5" x2="273.2" y2="549.5" stroke="#231f20" stroke-width="1"/>
<rect x="268.40" y="553.30" width="7.00" height="5.00" fill="#532461"/>
<line x1="280.5" y1="496.9" x2="280.5" y2="510" stroke="#231f20" stroke-width="1"/>
<line x1="279.3" y1="497.5" x2="281.90000000000003" y2="497.5" stroke="#231f20" stroke-width="1"/>
<rect x="277.10" y="510.00" width="7.00" height="48.30" fill="#a5042f"/>
<text x="275.60" y="572.4" font-size="8.2" text-anchor="middle" fill="#231f20" stroke="#231f20">SP</text>
<line x1="293.5" y1="553.5" x2="293.5" y2="554.8" stroke="#231f20" stroke-width="1"/>
<line x1="291.79999999999995" y1="554.5" x2="294.4" y2="554.5" stroke="#231f20" stroke-width="1"/>
<rect x="289.60" y="554.80" width="7.00" height="3.50" fill="#532461"/>
<line x1="301.5" y1="467.3" x2="301.5" y2="498" stroke="#231f20" stroke-width="1"/>
<line x1="300.49999999999994" y1="467.5" x2="303.09999999999997" y2="467.5" stroke="#231f20" stroke-width="1"/>
<rect x="298.30" y="498.00" width="7.00" height="60.30" fill="#a5042f"/>
<text x="296.80" y="572.4" font-size="8.2" text-anchor="middle" fill="#231f20" stroke="#231f20">LN</text>
<line x1="55.7" y1="483.5" x2="71.1" y2="483.5" stroke="#231f20" stroke-width="1"/>
<text x="63.40" y="484.40" font-size="9" text-anchor="middle" fill="#231f20" stroke="#231f20">**</text>
<line x1="98.7" y1="497.5" x2="114.3" y2="497.5" stroke="#231f20" stroke-width="1"/>
<text x="106.50" y="498.20" font-size="9" text-anchor="middle" fill="#231f20" stroke="#231f20">**</text>
<line x1="120.0" y1="486.5" x2="135.8" y2="486.5" stroke="#231f20" stroke-width="1"/>
<text x="127.90" y="487.80" font-size="9" text-anchor="middle" fill="#231f20" stroke="#231f20">**</text>
<line x1="162.3" y1="480.5" x2="178.0" y2="480.5" stroke="#231f20" stroke-width="1"/>
<text x="170.15" y="481.30" font-size="9" text-anchor="middle" fill="#231f20" stroke="#231f20">*</text>
<line x1="185.0" y1="476.5" x2="200.4" y2="476.5" stroke="#231f20" stroke-width="1"/>
<text x="192.70" y="477.80" font-size="9" text-anchor="middle" fill="#231f20" stroke="#231f20">*</text>
<line x1="206.2" y1="487.5" x2="221.9" y2="487.5" stroke="#231f20" stroke-width="1"/>
<text x="214.05" y="488.40" font-size="9" text-anchor="middle" fill="#231f20" stroke="#231f20">***</text>
<line x1="226.9" y1="463.5" x2="242.6" y2="463.5" stroke="#231f20" stroke-width="1"/>
<text x="234.75" y="464.10" font-size="9" text-anchor="middle" fill="#231f20" stroke="#231f20">***</text>
<line x1="268.8" y1="490.5" x2="284.5" y2="490.5" stroke="#231f20" stroke-width="1"/>
<text x="276.65" y="490.90" font-size="9" text-anchor="middle" fill="#231f20" stroke="#231f20">***</text>
<line x1="289.3" y1="463.5" x2="304.8" y2="463.5" stroke="#231f20" stroke-width="1"/>
<text x="297.05" y="464.60" font-size="9" text-anchor="middle" fill="#231f20" stroke="#231f20">**</text>
<line x1="366.5" y1="267.9" x2="366.5" y2="372.5" stroke="#231f20" stroke-width="1"/>
<line x1="363.0" y1="372.5" x2="366.0" y2="372.5" stroke="#231f20" stroke-width="1"/>
<text x="359.8" y="375.60" font-size="8.5" text-anchor="end" fill="#231f20" stroke="#231f20">0</text>
<line x1="363.0" y1="352.5" x2="366.0" y2="352.5" stroke="#231f20" stroke-width="1"/>
<text x="359.8" y="355.20" font-size="8.5" text-anchor="end" fill="#231f20" stroke="#231f20">10</text>
<line x1="363.0" y1="331.5" x2="366.0" y2="331.5" stroke="#231f20" stroke-width="1"/>
<text x="359.8" y="334.80" font-size="8.5" text-anchor="end" fill="#231f20" stroke="#231f20">20</text>
<line x1="363.0" y1="311.5" x2="366.0" y2="311.5" stroke="#231f20" stroke-width="1"/>
<text x="359.8" y="314.40" font-size="8.5" text-anchor="end" fill="#231f20" stroke="#231f20">30</text>
<line x1="363.0" y1="290.5" x2="366.0" y2="290.5" stroke="#231f20" stroke-width="1"/>
<text x="359.8" y="293.90" font-size="8.5" text-anchor="end" fill="#231f20" stroke="#231f20">40</text>
<line x1="363.0" y1="270.5" x2="366.0" y2="270.5" stroke="#231f20" stroke-width="1"/>
<text x="359.8" y="273.50" font-size="8.5" text-anchor="end" fill="#231f20" stroke="#231f20">50</text>
<line x1="366.0" y1="372.5" x2="490.8" y2="372.5" stroke="#231f20" stroke-width="1"/>
<line x1="366.5" y1="372.5" x2="366.5" y2="375.5" stroke="#231f20" stroke-width="1"/>
<line x1="386.5" y1="372.5" x2="386.5" y2="375.5" stroke="#231f20" stroke-width="1"/>
<line x1="406.5" y1="372.5" x2="406.5" y2="375.5" stroke="#231f20" stroke-width="1"/>
<line x1="427.5" y1="372.5" x2="427.5" y2="375.5" stroke="#231f20" stroke-width="1"/>
<line x1="447.5" y1="372.5" x2="447.5" y2="375.5" stroke="#231f20" stroke-width="1"/>
<line x1="468.5" y1="372.5" x2="468.5" y2="375.5" stroke="#231f20" stroke-width="1"/>
<line x1="488.5" y1="372.5" x2="488.5" y2="375.5" stroke="#231f20" stroke-width="1"/>
<line x1="371.5" y1="370.6" x2="371.5" y2="371.5" stroke="#231f20" stroke-width="1"/>
<line x1="370.55" y1="371.5" x2="373.15000000000003" y2="371.5" stroke="#231f20" stroke-width="1"/>
<rect x="368.30" y="371.50" width="7.10" height="1.00" fill="#532461"/>
<line x1="380.5" y1="366" x2="380.5" y2="368.3" stroke="#231f20" stroke-width="1"/>
<line x1="379.25" y1="366.5" x2="381.85" y2="366.5" stroke="#231f20" stroke-width="1"/>
<rect x="377.00" y="368.30" width="7.10" height="4.20" fill="#a5042f"/>
<text x="376.20" y="385.7" font-size="8.2" text-anchor="middle" fill="#231f20" stroke="#231f20">BM</text>
<line x1="392.5" y1="321.2" x2="392.5" y2="325" stroke="#231f20" stroke-width="1"/>
<line x1="390.85" y1="321.5" x2="393.45000000000005" y2="321.5" stroke="#231f20" stroke-width="1"/>
<rect x="388.60" y="325.00" width="7.10" height="47.50" fill="#532461"/>
<line x1="400.5" y1="355.4" x2="400.5" y2="364" stroke="#231f20" stroke-width="1"/>
<line x1="399.55" y1="355.5" x2="402.15000000000003" y2="355.5" stroke="#231f20" stroke-width="1"/>
<rect x="397.30" y="364.00" width="7.10" height="8.50" fill="#a5042f"/>
<text x="396.60" y="385.7" font-size="8.2" text-anchor="middle" fill="#231f20" stroke="#231f20">SP</text>
<line x1="412.5" y1="283.1" x2="412.5" y2="295.6" stroke="#231f20" stroke-width="1"/>
<line x1="411.15000000000003" y1="283.5" x2="413.75000000000006" y2="283.5" stroke="#231f20" stroke-width="1"/>
<rect x="408.90" y="295.60" width="7.10" height="76.90" fill="#532461"/>
<line x1="421.5" y1="282.9" x2="421.5" y2="299.4" stroke="#231f20" stroke-width="1"/>
<line x1="419.85" y1="283.5" x2="422.45000000000005" y2="283.5" stroke="#231f20" stroke-width="1"/>
<rect x="417.60" y="299.40" width="7.10" height="73.10" fill="#a5042f"/>
<text x="417.00" y="385.7" font-size="8.2" text-anchor="middle" fill="#231f20" stroke="#231f20">LN</text>
<line x1="432.5" y1="368.3" x2="432.5" y2="369.8" stroke="#231f20" stroke-width="1"/>
<line x1="431.45000000000005" y1="368.5" x2="434.05000000000007" y2="368.5" stroke="#231f20" stroke-width="1"/>
<rect x="429.20" y="369.80" width="7.10" height="2.70" fill="#532461"/>
<line x1="441.5" y1="361.2" x2="441.5" y2="365.8" stroke="#231f20" stroke-width="1"/>
<line x1="440.15" y1="361.5" x2="442.75" y2="361.5" stroke="#231f20" stroke-width="1"/>
<rect x="437.90" y="365.80" width="7.10" height="6.70" fill="#a5042f"/>
<text x="437.40" y="385.7" font-size="8.2" text-anchor="middle" fill="#231f20" stroke="#231f20">BM</text>
<line x1="453.5" y1="340.4" x2="453.5" y2="345.2" stroke="#231f20" stroke-width="1"/>
<line x1="451.75" y1="340.5" x2="454.35" y2="340.5" stroke="#231f20" stroke-width="1"/>
<rect x="449.50" y="345.20" width="7.10" height="27.30" fill="#532461"/>
<line x1="461.5" y1="362.5" x2="461.5" y2="367.3" stroke="#231f20" stroke-width="1"/>
<line x1="460.45" y1="363.5" x2="463.05" y2="363.5" stroke="#231f20" stroke-width="1"/>
<rect x="458.20" y="367.30" width="7.10" height="5.20" fill="#a5042f"/>
<text x="457.80" y="385.7" font-size="8.2" text-anchor="middle" fill="#231f20" stroke="#231f20">SP</text>
<line x1="473.5" y1="309" x2="473.5" y2="315.4" stroke="#231f20" stroke-width="1"/>
<line x1="472.05" y1="309.5" x2="474.65000000000003" y2="309.5" stroke="#231f20" stroke-width="1"/>
<rect x="469.80" y="315.40" width="7.10" height="57.10" fill="#532461"/>
<line x1="482.5" y1="312.9" x2="482.5" y2="328.5" stroke="#231f20" stroke-width="1"/>
<line x1="480.75" y1="313.5" x2="483.35" y2="313.5" stroke="#231f20" stroke-width="1"/>
<rect x="478.50" y="328.50" width="7.10" height="44.00" fill="#a5042f"/>
<text x="478.20" y="385.7" font-size="8.2" text-anchor="middle" fill="#231f20" stroke="#231f20">LN</text>
<line x1="388.0" y1="312.5" x2="403.8" y2="312.5" stroke="#231f20" stroke-width="1"/>
<text x="395.90" y="313.30" font-size="9" text-anchor="middle" fill="#231f20" stroke="#231f20">***</text>
<line x1="448.8" y1="333.5" x2="464.6" y2="333.5" stroke="#231f20" stroke-width="1"/>
<text x="456.70" y="334.00" font-size="9" text-anchor="middle" fill="#231f20" stroke="#231f20">***</text>
<line x1="365.5" y1="454.8" x2="365.5" y2="558.3" stroke="#231f20" stroke-width="1"/>
<line x1="362.6" y1="558.5" x2="365.6" y2="558.5" stroke="#231f20" stroke-width="1"/>
<text x="359.40000000000003" y="561.40" font-size="8.5" text-anchor="end" fill="#231f20" stroke="#231f20">0</text>
<line x1="362.6" y1="533.5" x2="365.6" y2="533.5" stroke="#231f20" stroke-width="1"/>
<text x="359.40000000000003" y="536.20" font-size="8.5" text-anchor="end" fill="#231f20" stroke="#231f20">10</text>
<line x1="362.6" y1="507.5" x2="365.6" y2="507.5" stroke="#231f20" stroke-width="1"/>
<text x="359.40000000000003" y="510.90" font-size="8.5" text-anchor="end" fill="#231f20" stroke="#231f20">20</text>
<line x1="362.6" y1="482.5" x2="365.6" y2="482.5" stroke="#231f20" stroke-width="1"/>
<text x="359.40000000000003" y="485.70" font-size="8.5" text-anchor="end" fill="#231f20" stroke="#231f20">30</text>
<line x1="362.6" y1="457.5" x2="365.6" y2="457.5" stroke="#231f20" stroke-width="1"/>
<text x="359.40000000000003" y="460.40" font-size="8.5" text-anchor="end" fill="#231f20" stroke="#231f20">40</text>
<line x1="365.6" y1="558.5" x2="489.2" y2="558.5" stroke="#231f20" stroke-width="1"/>
<line x1="365.5" y1="558.3" x2="365.5" y2="561.3" stroke="#231f20" stroke-width="1"/>
<line x1="385.5" y1="558.3" x2="385.5" y2="561.3" stroke="#231f20" stroke-width="1"/>
<line x1="406.5" y1="558.3" x2="406.5" y2="561.3" stroke="#231f20" stroke-width="1"/>
<line x1="426.5" y1="558.3" x2="426.5" y2="561.3" stroke="#231f20" stroke-width="1"/>
<line x1="446.5" y1="558.3" x2="446.5" y2="561.3" stroke="#231f20" stroke-width="1"/>
<line x1="466.5" y1="558.3" x2="466.5" y2="561.3" stroke="#231f20" stroke-width="1"/>
<line x1="486.5" y1="558.3" x2="486.5" y2="561.3" stroke="#231f20" stroke-width="1"/>
<line x1="371.5" y1="556.7" x2="371.5" y2="557.3" stroke="#231f20" stroke-width="1"/>
<line x1="370.45" y1="557.5" x2="373.05" y2="557.5" stroke="#231f20" stroke-width="1"/>
<rect x="368.30" y="557.30" width="6.90" height="1.00" fill="#532461"/>
<line x1="380.5" y1="555.2" x2="380.5" y2="556.3" stroke="#231f20" stroke-width="1"/>
<line x1="379.45" y1="555.5" x2="382.05" y2="555.5" stroke="#231f20" stroke-width="1"/>
<rect x="377.30" y="556.30" width="6.90" height="2.00" fill="#a5042f"/>
<text x="375.70" y="572.3" font-size="8.2" text-anchor="middle" fill="#231f20" stroke="#231f20">BM</text>
<line x1="391.5" y1="510.5" x2="391.5" y2="517.2" stroke="#231f20" stroke-width="1"/>
<line x1="390.4" y1="511.5" x2="393.0" y2="511.5" stroke="#231f20" stroke-width="1"/>
<rect x="388.25" y="517.20" width="6.90" height="41.10" fill="#532461"/>
<line x1="400.5" y1="552.3" x2="400.5" y2="555.2" stroke="#231f20" stroke-width="1"/>
<line x1="399.4" y1="552.5" x2="402.0" y2="552.5" stroke="#231f20" stroke-width="1"/>
<rect x="397.25" y="555.20" width="6.90" height="3.10" fill="#a5042f"/>
<text x="395.90" y="572.3" font-size="8.2" text-anchor="middle" fill="#231f20" stroke="#231f20">SP</text>
<line x1="411.5" y1="471.2" x2="411.5" y2="482" stroke="#231f20" stroke-width="1"/>
<line x1="410.34999999999997" y1="471.5" x2="412.95" y2="471.5" stroke="#231f20" stroke-width="1"/>
<rect x="408.20" y="482.00" width="6.90" height="76.30" fill="#532461"/>
<line x1="420.5" y1="515.2" x2="420.5" y2="538.1" stroke="#231f20" stroke-width="1"/>
<line x1="419.34999999999997" y1="515.5" x2="421.95" y2="515.5" stroke="#231f20" stroke-width="1"/>
<rect x="417.20" y="538.10" width="6.90" height="20.20" fill="#a5042f"/>
<text x="416.10" y="572.3" font-size="8.2" text-anchor="middle" fill="#231f20" stroke="#231f20">LN</text>
<line x1="431.5" y1="556.3" x2="431.5" y2="557.3" stroke="#231f20" stroke-width="1"/>
<line x1="430.29999999999995" y1="556.5" x2="432.9" y2="556.5" stroke="#231f20" stroke-width="1"/>
<rect x="428.15" y="557.30" width="6.90" height="1.00" fill="#532461"/>
<line x1="440.5" y1="551.5" x2="440.5" y2="554.2" stroke="#231f20" stroke-width="1"/>
<line x1="439.29999999999995" y1="552.5" x2="441.9" y2="552.5" stroke="#231f20" stroke-width="1"/>
<rect x="437.15" y="554.20" width="6.90" height="4.10" fill="#a5042f"/>
<text x="436.30" y="572.3" font-size="8.2" text-anchor="middle" fill="#231f20" stroke="#231f20">BM</text>
<line x1="451.5" y1="530.8" x2="451.5" y2="541.2" stroke="#231f20" stroke-width="1"/>
<line x1="450.25" y1="531.5" x2="452.85" y2="531.5" stroke="#231f20" stroke-width="1"/>
<rect x="448.10" y="541.20" width="6.90" height="17.10" fill="#532461"/>
<line x1="460.5" y1="550.4" x2="460.5" y2="553.3" stroke="#231f20" stroke-width="1"/>
<line x1="459.25" y1="550.5" x2="461.85" y2="550.5" stroke="#231f20" stroke-width="1"/>
<rect x="457.10" y="553.30" width="6.90" height="5.00" fill="#a5042f"/>
<text x="456.50" y="572.3" font-size="8.2" text-anchor="middle" fill="#231f20" stroke="#231f20">SP</text>
<line x1="471.5" y1="515.4" x2="471.5" y2="519.2" stroke="#231f20" stroke-width="1"/>
<line x1="470.2" y1="515.5" x2="472.8" y2="515.5" stroke="#231f20" stroke-width="1"/>
<rect x="468.05" y="519.20" width="6.90" height="39.10" fill="#532461"/>
<line x1="480.5" y1="522.1" x2="480.5" y2="534.2" stroke="#231f20" stroke-width="1"/>
<line x1="479.2" y1="522.5" x2="481.8" y2="522.5" stroke="#231f20" stroke-width="1"/>
<rect x="477.05" y="534.20" width="6.90" height="24.10" fill="#a5042f"/>
<text x="476.70" y="572.3" font-size="8.2" text-anchor="middle" fill="#231f20" stroke="#231f20">LN</text>
<line x1="386.9" y1="505.5" x2="402.7" y2="505.5" stroke="#231f20" stroke-width="1"/>
<text x="394.80" y="506.50" font-size="9" text-anchor="middle" fill="#231f20" stroke="#231f20">***</text>
<line x1="407.5" y1="468.5" x2="423.1" y2="468.5" stroke="#231f20" stroke-width="1"/>
<text x="415.30" y="469.10" font-size="9" text-anchor="middle" fill="#231f20" stroke="#231f20">***</text>
<line x1="446.7" y1="526.5" x2="462.3" y2="526.5" stroke="#231f20" stroke-width="1"/>
<text x="454.50" y="527.20" font-size="9" text-anchor="middle" fill="#231f20" stroke="#231f20">**</text>
<line x1="468.5" y1="511.5" x2="483.8" y2="511.5" stroke="#231f20" stroke-width="1"/>
<text x="476.15" y="511.90" font-size="9" text-anchor="middle" fill="#231f20" stroke="#231f20">*</text>
<line x1="54" y1="391.5" x2="112.2" y2="391.5" stroke="#231f20" stroke-width="1"/>
<line x1="118.1" y1="391.5" x2="176" y2="391.5" stroke="#231f20" stroke-width="1"/>
<line x1="181" y1="391.5" x2="239.8" y2="391.5" stroke="#231f20" stroke-width="1"/>
<line x1="245.6" y1="391.5" x2="303.3" y2="391.5" stroke="#231f20" stroke-width="1"/>
<text x="83.1" y="405.2" font-size="8.6" text-anchor="middle" fill="#231f20" stroke="#231f20">TIGIT<tspan dy="-3.2" font-size="5.8">+</tspan></text>
<text x="147.3" y="405.2" font-size="8.6" text-anchor="middle" fill="#231f20" stroke="#231f20">PD1<tspan dy="-3.2" font-size="5.8">+</tspan></text>
<text x="210.8" y="405.2" font-size="8.6" text-anchor="middle" fill="#231f20" stroke="#231f20">TIGIT<tspan dy="-3.2" font-size="5.8">+</tspan></text>
<text x="274.7" y="405.2" font-size="8.6" text-anchor="middle" fill="#231f20" stroke="#231f20">PD1<tspan dy="-3.2" font-size="5.8">+</tspan></text>
<line x1="53.5" y1="410.5" x2="176.3" y2="410.5" stroke="#231f20" stroke-width="1"/>
<line x1="180.1" y1="410.5" x2="303.3" y2="410.5" stroke="#231f20" stroke-width="1"/>
<text x="115.1" y="424.3" font-size="9" text-anchor="middle" fill="#231f20" stroke="#231f20">CD4<tspan dy="-3.2" font-size="5.8">+</tspan></text>
<text x="241.6" y="424.3" font-size="9" text-anchor="middle" fill="#231f20" stroke="#231f20">CD8<tspan dy="-3.2" font-size="5.8">+</tspan></text>
<line x1="54" y1="577.5" x2="112.7" y2="577.5" stroke="#231f20" stroke-width="1"/>
<line x1="118" y1="577.5" x2="176" y2="577.5" stroke="#231f20" stroke-width="1"/>
<line x1="181" y1="577.5" x2="239.8" y2="577.5" stroke="#231f20" stroke-width="1"/>
<line x1="246.9" y1="577.5" x2="305.6" y2="577.5" stroke="#231f20" stroke-width="1"/>
<text x="85" y="591.5" font-size="8.6" text-anchor="middle" fill="#231f20" stroke="#231f20">TIGIT<tspan dy="-3.2" font-size="5.8">+</tspan></text>
<text x="148.6" y="591.5" font-size="8.6" text-anchor="middle" fill="#231f20" stroke="#231f20">PD1<tspan dy="-3.2" font-size="5.8">+</tspan></text>
<text x="212.4" y="591.5" font-size="8.6" text-anchor="middle" fill="#231f20" stroke="#231f20">TIGIT<tspan dy="-3.2" font-size="5.8">+</tspan></text>
<text x="276.0" y="591.5" font-size="8.6" text-anchor="middle" fill="#231f20" stroke="#231f20">PD1<tspan dy="-3.2" font-size="5.8">+</tspan></text>
<line x1="54" y1="596.5" x2="177.3" y2="596.5" stroke="#231f20" stroke-width="1"/>
<line x1="181" y1="596.5" x2="304.6" y2="596.5" stroke="#231f20" stroke-width="1"/>
<text x="115.8" y="610.4" font-size="9" text-anchor="middle" fill="#231f20" stroke="#231f20">CD4<tspan dy="-3.2" font-size="5.8">+</tspan></text>
<text x="243.2" y="610.4" font-size="9" text-anchor="middle" fill="#231f20" stroke="#231f20">CD8<tspan dy="-3.2" font-size="5.8">+</tspan></text>
<line x1="370.2" y1="391.5" x2="425.6" y2="391.5" stroke="#231f20" stroke-width="1"/>
<line x1="430.5" y1="391.5" x2="486.3" y2="391.5" stroke="#231f20" stroke-width="1"/>
<text x="397.9" y="405.8" font-size="9" text-anchor="middle" fill="#231f20" stroke="#231f20">CD4<tspan dy="-3.2" font-size="5.8">+</tspan></text>
<text x="458.4" y="405.8" font-size="9" text-anchor="middle" fill="#231f20" stroke="#231f20">CD8<tspan dy="-3.2" font-size="5.8">+</tspan></text>
<line x1="368.7" y1="577.5" x2="424" y2="577.5" stroke="#231f20" stroke-width="1"/>
<line x1="428.7" y1="577.5" x2="484" y2="577.5" stroke="#231f20" stroke-width="1"/>
<text x="396.2" y="591.3" font-size="9" text-anchor="middle" fill="#231f20" stroke="#231f20">CD4<tspan dy="-3.2" font-size="5.8">+</tspan></text>
<text x="456.3" y="591.3" font-size="9" text-anchor="middle" fill="#231f20" stroke="#231f20">CD8<tspan dy="-3.2" font-size="5.8">+</tspan></text>
<text x="0" y="0" font-size="10.3" fill="#231f20" stroke="#231f20" text-anchor="middle" transform="translate(33.0,319.6) rotate(-90)" textLength="87" lengthAdjust="spacingAndGlyphs">% of CD4<tspan dy="-4" font-size="7">+</tspan><tspan dy="4"> or CD8</tspan><tspan dy="-4" font-size="7">+</tspan><tspan dy="4"> cells</tspan></text>
<text x="0" y="0" font-size="10.3" fill="#231f20" stroke="#231f20" text-anchor="middle" transform="translate(28.4,505.4) rotate(-90)" textLength="86.8" lengthAdjust="spacingAndGlyphs">% of CD4<tspan dy="-4" font-size="7">+</tspan><tspan dy="4"> or CD8</tspan><tspan dy="-4" font-size="7">+</tspan><tspan dy="4"> cells</tspan></text>
<text x="0" y="0" font-size="10.3" fill="#231f20" stroke="#231f20" text-anchor="middle" transform="translate(344.8,319.7) rotate(-90)" textLength="47.2" lengthAdjust="spacingAndGlyphs">% of live cells</text>
<text x="0" y="0" font-size="10.6" fill="#231f20" stroke="#231f20" text-anchor="middle" transform="translate(344.8,506.2) rotate(-90)" textLength="47.8" lengthAdjust="spacingAndGlyphs">% of live cells</text>
<rect x="96.60" y="270.00" width="6.60" height="6.40" fill="#532461"/>
<rect x="96.60" y="282.40" width="6.60" height="6.40" fill="#a5042f"/>
<text x="106.5" y="276.3" font-size="8.6" textLength="36.9" lengthAdjust="spacingAndGlyphs" fill="#231f20" stroke="#231f20">Con (n=5)</text>
<text x="106.5" y="288.7" font-size="8.6" textLength="48.1" lengthAdjust="spacingAndGlyphs" fill="#231f20" stroke="#231f20">VQ-D1 (n=7)</text>
<rect x="93.10" y="446.80" width="6.60" height="6.40" fill="#532461"/>
<rect x="93.10" y="459.30" width="6.60" height="6.40" fill="#a5042f"/>
<text x="102.7" y="453.1" font-size="8.6" textLength="37.9" lengthAdjust="spacingAndGlyphs" fill="#231f20" stroke="#231f20">Con (n=5)</text>
<text x="102.7" y="465.6" font-size="8.6" textLength="48.5" lengthAdjust="spacingAndGlyphs" fill="#231f20" stroke="#231f20">VQ-D2 (n=7)</text>
<rect x="428.00" y="270.00" width="6.60" height="6.40" fill="#532461"/>
<rect x="428.00" y="282.40" width="6.60" height="6.40" fill="#a5042f"/>
<text x="437.7" y="276.3" font-size="8.6" textLength="15.3" lengthAdjust="spacingAndGlyphs" fill="#231f20" stroke="#231f20">Con</text>
<text x="437.7" y="288.7" font-size="8.6" textLength="25.7" lengthAdjust="spacingAndGlyphs" fill="#231f20" stroke="#231f20">VQ-D1</text>
<rect x="437.50" y="446.70" width="6.60" height="6.40" fill="#532461"/>
<rect x="437.50" y="459.20" width="6.60" height="6.40" fill="#a5042f"/>
<text x="447.4" y="453.0" font-size="8.6" textLength="15.4" lengthAdjust="spacingAndGlyphs" fill="#231f20" stroke="#231f20">Con</text>
<text x="447.4" y="465.5" font-size="8.6" textLength="25.7" lengthAdjust="spacingAndGlyphs" fill="#231f20" stroke="#231f20">VQ-D2</text>
<rect x="0.5" y="0.5" width="519" height="618" fill="none" stroke="#000" stroke-width="1"/>
</svg></body></html>
